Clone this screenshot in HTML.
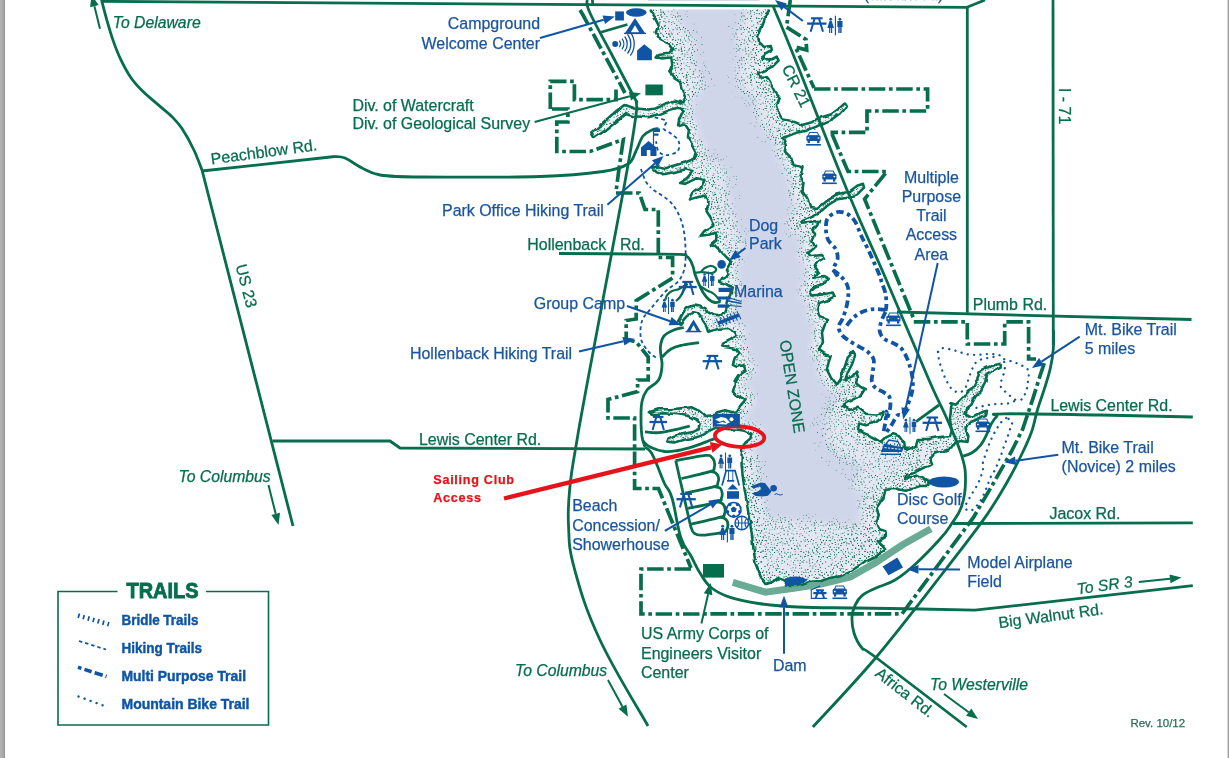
<!DOCTYPE html>
<html><head><meta charset="utf-8"><title>Alum Creek State Park Map</title>
<style>
html,body{margin:0;padding:0;background:#fff;}
body{width:1229px;height:758px;overflow:hidden;position:relative;font-family:"Liberation Sans",sans-serif;}
svg{position:absolute;left:0;top:0;display:block;will-change:transform;}
svg text{font-family:"Liberation Sans",sans-serif;}
</style></head><body>
<svg width="1229" height="758" viewBox="0 0 1229 758">
<rect x="0" y="0" width="1229" height="758" fill="#fff"/>
<path d="M732.8 582.4 L765.4 592.2 L793.8 588.3 L821 584 L850.4 577 L875.8 562.5 L903 544.5 L930.9 528.7" fill="none" stroke="#6aab96" stroke-width="7" stroke-linejoin="miter"/>
<defs>
<pattern id="sP" width="64" height="64" patternUnits="userSpaceOnUse"><g fill="#066d4d"><circle cx="20.7" cy="9.7" r="0.62"/><circle cx="41.7" cy="4.6" r="0.53"/><circle cx="34.3" cy="23.4" r="0.52"/><circle cx="3.7" cy="32.5" r="0.47"/><circle cx="2.4" cy="27.8" r="0.56"/><circle cx="4.5" cy="5.8" r="0.49"/><circle cx="27.2" cy="52.9" r="0.48"/><circle cx="7.9" cy="14.3" r="0.45"/><circle cx="40.2" cy="60.7" r="0.45"/><circle cx="36.9" cy="25.4" r="0.57"/><circle cx="62.5" cy="3.0" r="0.47"/><circle cx="54.9" cy="18.5" r="0.61"/><circle cx="9.2" cy="7.5" r="0.46"/><circle cx="19.7" cy="52.2" r="0.60"/><circle cx="11.6" cy="37.2" r="0.47"/><circle cx="40.9" cy="23.8" r="0.45"/><circle cx="35.1" cy="4.0" r="0.57"/><circle cx="3.8" cy="13.2" r="0.49"/><circle cx="43.5" cy="27.4" r="0.57"/><circle cx="20.1" cy="37.5" r="0.48"/><circle cx="29.0" cy="19.2" r="0.46"/><circle cx="50.8" cy="44.7" r="0.58"/><circle cx="15.6" cy="36.8" r="0.57"/><circle cx="33.6" cy="56.0" r="0.60"/><circle cx="46.7" cy="18.4" r="0.57"/><circle cx="62.7" cy="7.6" r="0.46"/><circle cx="-1.3" cy="7.6" r="0.46"/><circle cx="26.8" cy="48.5" r="0.56"/><circle cx="9.7" cy="31.3" r="0.57"/><circle cx="2.5" cy="42.8" r="0.53"/><circle cx="48.9" cy="36.7" r="0.61"/><circle cx="44.5" cy="38.0" r="0.49"/><circle cx="37.1" cy="29.2" r="0.61"/><circle cx="53.8" cy="60.5" r="0.57"/><circle cx="30.3" cy="42.5" r="0.45"/><circle cx="3.9" cy="44.9" r="0.45"/><circle cx="41.4" cy="63.6" r="0.56"/><circle cx="41.4" cy="-0.4" r="0.56"/><circle cx="52.6" cy="18.2" r="0.59"/><circle cx="24.7" cy="42.8" r="0.46"/><circle cx="3.8" cy="49.2" r="0.50"/><circle cx="25.0" cy="55.8" r="0.57"/><circle cx="5.2" cy="28.7" r="0.48"/><circle cx="52.4" cy="55.3" r="0.60"/><circle cx="17.8" cy="26.6" r="0.53"/><circle cx="23.0" cy="56.6" r="0.46"/><circle cx="61.3" cy="9.7" r="0.51"/><circle cx="11.3" cy="14.8" r="0.55"/><circle cx="14.9" cy="31.0" r="0.52"/><circle cx="37.7" cy="16.8" r="0.57"/><circle cx="0.3" cy="26.8" r="0.47"/><circle cx="64.3" cy="26.8" r="0.47"/><circle cx="23.6" cy="36.2" r="0.59"/><circle cx="61.0" cy="44.2" r="0.51"/><circle cx="33.0" cy="39.5" r="0.56"/><circle cx="57.6" cy="49.9" r="0.56"/><circle cx="25.1" cy="25.5" r="0.52"/><circle cx="6.6" cy="40.6" r="0.52"/><circle cx="13.4" cy="10.4" r="0.58"/><circle cx="21.8" cy="3.4" r="0.61"/><circle cx="0.0" cy="9.7" r="0.58"/><circle cx="64.0" cy="9.7" r="0.58"/><circle cx="6.5" cy="23.3" r="0.55"/><circle cx="1.6" cy="56.0" r="0.50"/><circle cx="39.3" cy="9.5" r="0.46"/><circle cx="16.1" cy="22.2" r="0.62"/><circle cx="23.3" cy="7.9" r="0.57"/><circle cx="54.3" cy="63.6" r="0.59"/><circle cx="54.3" cy="-0.4" r="0.59"/><circle cx="29.8" cy="31.0" r="0.51"/><circle cx="21.9" cy="16.9" r="0.55"/><circle cx="53.0" cy="10.3" r="0.62"/><circle cx="1.5" cy="60.9" r="0.59"/><circle cx="65.5" cy="60.9" r="0.59"/><circle cx="33.8" cy="9.4" r="0.55"/><circle cx="34.8" cy="1.7" r="0.50"/><circle cx="33.8" cy="62.6" r="0.52"/><circle cx="33.8" cy="-1.4" r="0.52"/><circle cx="55.3" cy="44.6" r="0.60"/><circle cx="10.7" cy="49.4" r="0.51"/><circle cx="34.1" cy="49.9" r="0.57"/><circle cx="21.1" cy="14.3" r="0.55"/><circle cx="51.9" cy="63.0" r="0.60"/><circle cx="51.9" cy="-1.0" r="0.60"/><circle cx="54.6" cy="51.6" r="0.59"/><circle cx="52.4" cy="47.4" r="0.50"/><circle cx="14.5" cy="33.1" r="0.45"/><circle cx="1.8" cy="17.9" r="0.49"/><circle cx="16.6" cy="44.3" r="0.52"/><circle cx="61.2" cy="28.6" r="0.55"/><circle cx="60.0" cy="63.2" r="0.59"/><circle cx="60.0" cy="-0.8" r="0.59"/><circle cx="61.1" cy="23.3" r="0.60"/><circle cx="14.1" cy="14.5" r="0.46"/><circle cx="39.9" cy="57.6" r="0.59"/><circle cx="53.8" cy="30.7" r="0.59"/><circle cx="41.8" cy="51.2" r="0.60"/><circle cx="48.0" cy="30.6" r="0.55"/><circle cx="62.2" cy="25.3" r="0.50"/><circle cx="25.7" cy="60.6" r="0.59"/><circle cx="46.4" cy="10.9" r="0.59"/><circle cx="8.1" cy="9.7" r="0.57"/><circle cx="9.4" cy="52.9" r="0.61"/><circle cx="62.7" cy="42.1" r="0.51"/><circle cx="-1.3" cy="42.1" r="0.51"/><circle cx="8.4" cy="0.9" r="0.46"/><circle cx="8.4" cy="64.9" r="0.46"/><circle cx="33.7" cy="59.8" r="0.54"/><circle cx="27.8" cy="55.8" r="0.59"/><circle cx="52.9" cy="13.5" r="0.48"/><circle cx="16.1" cy="18.7" r="0.58"/><circle cx="8.4" cy="58.2" r="0.61"/><circle cx="22.6" cy="29.3" r="0.49"/><circle cx="37.3" cy="57.9" r="0.55"/><circle cx="26.9" cy="58.7" r="0.57"/><circle cx="32.1" cy="34.0" r="0.53"/><circle cx="28.2" cy="11.7" r="0.49"/><circle cx="0.3" cy="51.1" r="0.49"/><circle cx="64.3" cy="51.1" r="0.49"/><circle cx="46.4" cy="35.6" r="0.58"/><circle cx="20.9" cy="33.2" r="0.58"/><circle cx="6.8" cy="35.9" r="0.53"/><circle cx="49.4" cy="32.5" r="0.46"/><circle cx="36.0" cy="48.6" r="0.59"/><circle cx="58.4" cy="28.4" r="0.58"/><circle cx="39.2" cy="32.4" r="0.49"/><circle cx="32.8" cy="44.3" r="0.55"/><circle cx="29.0" cy="34.1" r="0.60"/><circle cx="30.6" cy="60.3" r="0.60"/><circle cx="44.7" cy="56.1" r="0.54"/><circle cx="60.3" cy="16.6" r="0.53"/><circle cx="35.8" cy="60.4" r="0.55"/><circle cx="7.8" cy="28.3" r="0.48"/><circle cx="4.6" cy="15.4" r="0.48"/><circle cx="4.7" cy="42.8" r="0.48"/><circle cx="50.2" cy="57.4" r="0.57"/><circle cx="9.9" cy="45.8" r="0.51"/><circle cx="42.3" cy="9.2" r="0.55"/><circle cx="56.5" cy="61.9" r="0.52"/><circle cx="14.1" cy="61.0" r="0.54"/><circle cx="25.5" cy="31.2" r="0.48"/><circle cx="63.4" cy="53.3" r="0.46"/><circle cx="-0.6" cy="53.3" r="0.46"/><circle cx="10.3" cy="27.6" r="0.62"/><circle cx="33.0" cy="21.7" r="0.51"/><circle cx="12.5" cy="20.4" r="0.47"/><circle cx="46.2" cy="1.2" r="0.56"/><circle cx="46.2" cy="65.2" r="0.56"/><circle cx="1.2" cy="21.2" r="0.58"/><circle cx="65.2" cy="21.2" r="0.58"/><circle cx="4.1" cy="63.0" r="0.48"/><circle cx="4.1" cy="-1.0" r="0.48"/><circle cx="6.7" cy="17.0" r="0.55"/><circle cx="17.3" cy="8.3" r="0.51"/><circle cx="36.5" cy="44.8" r="0.54"/><circle cx="5.7" cy="3.7" r="0.45"/><circle cx="4.6" cy="60.1" r="0.46"/><circle cx="5.4" cy="54.8" r="0.62"/><circle cx="29.0" cy="21.7" r="0.60"/><circle cx="33.7" cy="15.3" r="0.53"/><circle cx="20.0" cy="19.5" r="0.55"/><circle cx="32.0" cy="11.4" r="0.49"/><circle cx="22.2" cy="1.2" r="0.58"/><circle cx="22.2" cy="65.2" r="0.58"/><circle cx="16.0" cy="1.0" r="0.52"/><circle cx="16.0" cy="65.0" r="0.52"/><circle cx="12.1" cy="30.4" r="0.61"/><circle cx="59.8" cy="6.8" r="0.58"/><circle cx="52.4" cy="27.7" r="0.59"/><circle cx="31.7" cy="53.4" r="0.61"/><circle cx="44.0" cy="62.9" r="0.49"/><circle cx="44.0" cy="-1.1" r="0.49"/><circle cx="21.9" cy="53.3" r="0.46"/><circle cx="45.2" cy="40.7" r="0.48"/><circle cx="25.9" cy="22.2" r="0.48"/><circle cx="3.5" cy="8.3" r="0.46"/><circle cx="16.4" cy="10.4" r="0.46"/><circle cx="18.0" cy="15.5" r="0.54"/><circle cx="18.8" cy="29.4" r="0.60"/><circle cx="16.8" cy="61.6" r="0.53"/><circle cx="62.2" cy="35.0" r="0.61"/><circle cx="19.8" cy="22.8" r="0.60"/><circle cx="5.7" cy="25.6" r="0.46"/><circle cx="2.7" cy="1.4" r="0.55"/><circle cx="2.7" cy="65.4" r="0.55"/><circle cx="37.5" cy="33.9" r="0.52"/><circle cx="48.0" cy="42.1" r="0.47"/><circle cx="2.8" cy="53.5" r="0.61"/><circle cx="57.1" cy="40.1" r="0.49"/><circle cx="47.0" cy="52.0" r="0.55"/><circle cx="8.9" cy="33.5" r="0.56"/><circle cx="51.5" cy="52.9" r="0.61"/><circle cx="43.7" cy="44.4" r="0.56"/><circle cx="35.7" cy="40.2" r="0.52"/><circle cx="40.1" cy="43.6" r="0.53"/><circle cx="31.3" cy="0.2" r="0.48"/><circle cx="31.3" cy="64.2" r="0.48"/><circle cx="47.2" cy="16.1" r="0.61"/><circle cx="46.7" cy="13.1" r="0.62"/><circle cx="47.3" cy="62.4" r="0.49"/><circle cx="31.6" cy="24.5" r="0.46"/><circle cx="49.1" cy="39.5" r="0.49"/><circle cx="9.4" cy="16.3" r="0.51"/><circle cx="43.2" cy="18.6" r="0.60"/><circle cx="33.1" cy="29.7" r="0.60"/><circle cx="29.8" cy="7.6" r="0.59"/><circle cx="57.2" cy="12.8" r="0.46"/><circle cx="62.6" cy="59.9" r="0.58"/><circle cx="-1.4" cy="59.9" r="0.58"/><circle cx="52.5" cy="32.6" r="0.57"/><circle cx="14.8" cy="57.5" r="0.56"/><circle cx="0.2" cy="31.5" r="0.62"/><circle cx="64.2" cy="31.5" r="0.62"/><circle cx="9.0" cy="22.0" r="0.46"/><circle cx="0.1" cy="48.0" r="0.47"/><circle cx="64.1" cy="48.0" r="0.47"/><circle cx="53.7" cy="7.7" r="0.58"/><circle cx="59.3" cy="45.6" r="0.61"/><circle cx="57.7" cy="18.5" r="0.57"/><circle cx="63.9" cy="37.7" r="0.50"/><circle cx="-0.1" cy="37.7" r="0.50"/><circle cx="17.6" cy="3.1" r="0.55"/><circle cx="18.3" cy="59.9" r="0.58"/><circle cx="19.1" cy="47.3" r="0.47"/><circle cx="62.5" cy="16.7" r="0.51"/><circle cx="10.7" cy="10.3" r="0.49"/><circle cx="31.8" cy="14.1" r="0.47"/><circle cx="12.3" cy="5.8" r="0.53"/><circle cx="21.9" cy="5.8" r="0.48"/><circle cx="15.3" cy="16.5" r="0.49"/><circle cx="48.0" cy="26.4" r="0.47"/><circle cx="26.5" cy="33.5" r="0.57"/><circle cx="4.0" cy="17.8" r="0.45"/><circle cx="55.2" cy="13.8" r="0.57"/><circle cx="25.6" cy="28.5" r="0.48"/><circle cx="61.1" cy="54.3" r="0.46"/><circle cx="55.9" cy="1.4" r="0.61"/><circle cx="55.9" cy="65.4" r="0.61"/><circle cx="57.3" cy="30.3" r="0.49"/><circle cx="37.6" cy="0.0" r="0.61"/><circle cx="37.6" cy="64.0" r="0.61"/><circle cx="41.4" cy="48.9" r="0.60"/><circle cx="41.3" cy="19.4" r="0.60"/><circle cx="33.6" cy="37.3" r="0.47"/><circle cx="24.8" cy="14.3" r="0.53"/><circle cx="19.7" cy="1.4" r="0.47"/><circle cx="19.7" cy="65.4" r="0.47"/><circle cx="26.9" cy="16.5" r="0.61"/><circle cx="42.7" cy="59.2" r="0.59"/><circle cx="21.6" cy="26.9" r="0.56"/><circle cx="43.7" cy="12.7" r="0.53"/><circle cx="62.1" cy="19.9" r="0.51"/><circle cx="14.2" cy="48.7" r="0.59"/><circle cx="14.3" cy="26.7" r="0.53"/><circle cx="9.4" cy="25.2" r="0.56"/><circle cx="9.1" cy="3.3" r="0.47"/><circle cx="57.5" cy="56.5" r="0.49"/><circle cx="59.6" cy="21.1" r="0.46"/><circle cx="11.9" cy="59.9" r="0.57"/><circle cx="23.9" cy="21.2" r="0.54"/><circle cx="10.8" cy="0.2" r="0.47"/><circle cx="10.8" cy="64.2" r="0.47"/><circle cx="61.7" cy="13.3" r="0.60"/><circle cx="3.2" cy="30.3" r="0.50"/><circle cx="23.9" cy="58.8" r="0.52"/><circle cx="12.4" cy="23.3" r="0.48"/><circle cx="49.1" cy="2.6" r="0.50"/><circle cx="2.2" cy="4.0" r="0.59"/><circle cx="47.8" cy="57.5" r="0.51"/><circle cx="61.3" cy="39.5" r="0.48"/><circle cx="60.4" cy="1.6" r="0.53"/><circle cx="59.4" cy="11.7" r="0.50"/><circle cx="52.7" cy="49.5" r="0.60"/><circle cx="38.9" cy="21.0" r="0.47"/><circle cx="50.1" cy="5.1" r="0.62"/><circle cx="2.2" cy="35.4" r="0.46"/><circle cx="20.8" cy="62.7" r="0.60"/><circle cx="20.8" cy="-1.3" r="0.60"/><circle cx="17.0" cy="5.4" r="0.56"/><circle cx="6.2" cy="31.9" r="0.49"/><circle cx="45.4" cy="28.6" r="0.53"/><circle cx="47.9" cy="54.2" r="0.50"/><circle cx="9.8" cy="56.6" r="0.49"/><circle cx="25.3" cy="63.5" r="0.48"/><circle cx="25.3" cy="-0.5" r="0.48"/><circle cx="51.7" cy="41.8" r="0.51"/><circle cx="7.6" cy="12.1" r="0.62"/><circle cx="55.4" cy="28.7" r="0.62"/><circle cx="16.6" cy="49.8" r="0.61"/><circle cx="38.2" cy="39.7" r="0.47"/><circle cx="50.9" cy="35.1" r="0.50"/><circle cx="23.3" cy="12.6" r="0.60"/><circle cx="0.4" cy="57.7" r="0.46"/><circle cx="64.4" cy="57.7" r="0.46"/><circle cx="12.6" cy="8.1" r="0.57"/><circle cx="30.9" cy="3.4" r="0.50"/><circle cx="59.3" cy="24.8" r="0.62"/><circle cx="50.3" cy="14.2" r="0.45"/><circle cx="26.9" cy="37.3" r="0.59"/><circle cx="27.2" cy="42.2" r="0.51"/><circle cx="28.6" cy="28.1" r="0.47"/><circle cx="1.5" cy="39.6" r="0.45"/><circle cx="65.5" cy="39.6" r="0.45"/><circle cx="48.9" cy="49.9" r="0.59"/><circle cx="50.5" cy="59.6" r="0.54"/><circle cx="4.2" cy="22.5" r="0.48"/><circle cx="48.4" cy="10.2" r="0.52"/><circle cx="2.4" cy="11.7" r="0.61"/><circle cx="55.9" cy="35.5" r="0.49"/><circle cx="6.7" cy="63.5" r="0.55"/><circle cx="6.7" cy="-0.5" r="0.55"/><circle cx="23.1" cy="48.9" r="0.47"/><circle cx="37.5" cy="42.5" r="0.48"/><circle cx="39.4" cy="27.7" r="0.58"/><circle cx="37.7" cy="13.1" r="0.57"/><circle cx="14.5" cy="6.7" r="0.48"/><circle cx="35.4" cy="27.9" r="0.46"/><circle cx="17.0" cy="41.1" r="0.46"/><circle cx="47.8" cy="20.9" r="0.55"/><circle cx="56.3" cy="21.0" r="0.53"/><circle cx="28.0" cy="46.4" r="0.50"/><circle cx="36.5" cy="19.7" r="0.49"/><circle cx="13.6" cy="39.8" r="0.55"/><circle cx="44.6" cy="47.2" r="0.57"/><circle cx="4.2" cy="37.8" r="0.59"/><circle cx="58.5" cy="60.4" r="0.55"/><circle cx="61.7" cy="32.2" r="0.48"/><circle cx="54.5" cy="39.6" r="0.46"/><circle cx="22.2" cy="45.1" r="0.57"/><circle cx="55.2" cy="5.8" r="0.52"/><circle cx="0.1" cy="12.9" r="0.57"/><circle cx="64.1" cy="12.9" r="0.57"/><circle cx="31.5" cy="51.0" r="0.46"/><circle cx="44.8" cy="31.9" r="0.59"/><circle cx="44.6" cy="50.4" r="0.51"/><circle cx="13.2" cy="16.8" r="0.59"/><circle cx="45.0" cy="54.0" r="0.60"/><circle cx="21.0" cy="12.1" r="0.53"/><circle cx="62.4" cy="46.6" r="0.45"/><circle cx="24.9" cy="2.2" r="0.60"/><circle cx="25.5" cy="50.6" r="0.53"/><circle cx="40.5" cy="29.6" r="0.60"/><circle cx="9.1" cy="38.6" r="0.50"/><circle cx="20.0" cy="40.2" r="0.48"/><circle cx="40.3" cy="16.0" r="0.59"/><circle cx="11.7" cy="41.9" r="0.51"/><circle cx="49.8" cy="24.9" r="0.48"/><circle cx="34.6" cy="45.9" r="0.51"/><circle cx="13.4" cy="43.8" r="0.55"/><circle cx="60.2" cy="33.7" r="0.45"/><circle cx="14.0" cy="51.3" r="0.54"/><circle cx="8.3" cy="49.7" r="0.53"/><circle cx="30.0" cy="36.0" r="0.54"/><circle cx="22.6" cy="40.9" r="0.47"/><circle cx="53.4" cy="22.7" r="0.57"/><circle cx="38.9" cy="50.0" r="0.59"/><circle cx="35.5" cy="16.9" r="0.60"/><circle cx="42.6" cy="53.8" r="0.50"/><circle cx="40.8" cy="40.7" r="0.57"/><circle cx="32.2" cy="17.4" r="0.51"/><circle cx="59.0" cy="39.0" r="0.58"/><circle cx="42.7" cy="29.3" r="0.46"/><circle cx="11.6" cy="2.4" r="0.60"/><circle cx="0.9" cy="24.8" r="0.61"/><circle cx="64.9" cy="24.8" r="0.61"/><circle cx="37.9" cy="60.0" r="0.53"/></g></pattern>
<pattern id="sQ" width="64" height="64" patternUnits="userSpaceOnUse" patternTransform="translate(13 7)"><g fill="#066d4d"><circle cx="32.9" cy="34.0" r="0.49"/><circle cx="34.4" cy="1.3" r="0.43"/><circle cx="34.4" cy="65.3" r="0.43"/><circle cx="61.9" cy="14.3" r="0.48"/><circle cx="11.7" cy="6.6" r="0.43"/><circle cx="16.0" cy="52.3" r="0.40"/><circle cx="1.9" cy="6.2" r="0.42"/><circle cx="44.7" cy="12.5" r="0.39"/><circle cx="1.1" cy="38.4" r="0.51"/><circle cx="65.1" cy="38.4" r="0.51"/><circle cx="36.9" cy="33.5" r="0.46"/><circle cx="45.0" cy="6.6" r="0.43"/><circle cx="55.6" cy="45.9" r="0.44"/><circle cx="31.6" cy="32.0" r="0.43"/><circle cx="17.9" cy="7.8" r="0.39"/><circle cx="26.0" cy="8.8" r="0.50"/><circle cx="37.9" cy="55.1" r="0.46"/><circle cx="9.4" cy="36.7" r="0.51"/><circle cx="47.8" cy="10.5" r="0.44"/><circle cx="52.9" cy="60.0" r="0.47"/><circle cx="24.9" cy="26.9" r="0.41"/><circle cx="53.7" cy="33.6" r="0.39"/><circle cx="25.3" cy="60.2" r="0.51"/><circle cx="49.7" cy="21.7" r="0.50"/><circle cx="15.4" cy="21.4" r="0.42"/><circle cx="27.9" cy="62.8" r="0.51"/><circle cx="27.9" cy="-1.2" r="0.51"/><circle cx="51.5" cy="58.4" r="0.49"/><circle cx="52.2" cy="54.2" r="0.42"/><circle cx="3.4" cy="33.1" r="0.46"/><circle cx="61.3" cy="59.8" r="0.51"/><circle cx="16.0" cy="27.0" r="0.45"/><circle cx="40.5" cy="23.3" r="0.51"/><circle cx="34.0" cy="4.4" r="0.41"/><circle cx="27.7" cy="32.3" r="0.43"/><circle cx="1.3" cy="8.9" r="0.48"/><circle cx="65.3" cy="8.9" r="0.48"/><circle cx="62.1" cy="49.7" r="0.41"/><circle cx="60.0" cy="40.5" r="0.42"/><circle cx="56.6" cy="2.2" r="0.50"/><circle cx="41.1" cy="17.0" r="0.45"/><circle cx="43.4" cy="17.5" r="0.49"/><circle cx="34.7" cy="59.2" r="0.41"/><circle cx="33.3" cy="27.8" r="0.40"/><circle cx="60.9" cy="18.4" r="0.43"/><circle cx="19.5" cy="41.4" r="0.41"/><circle cx="7.7" cy="38.0" r="0.52"/><circle cx="61.2" cy="32.9" r="0.42"/><circle cx="17.2" cy="29.9" r="0.46"/><circle cx="34.2" cy="9.5" r="0.40"/><circle cx="7.9" cy="8.4" r="0.45"/><circle cx="18.8" cy="26.0" r="0.43"/><circle cx="18.5" cy="15.6" r="0.44"/><circle cx="5.6" cy="35.0" r="0.39"/><circle cx="53.7" cy="39.0" r="0.40"/><circle cx="36.5" cy="41.6" r="0.50"/><circle cx="12.9" cy="45.5" r="0.43"/><circle cx="29.5" cy="35.1" r="0.41"/><circle cx="39.2" cy="30.0" r="0.41"/><circle cx="14.2" cy="32.8" r="0.42"/><circle cx="24.5" cy="37.5" r="0.41"/><circle cx="0.8" cy="22.6" r="0.38"/><circle cx="64.8" cy="22.6" r="0.38"/><circle cx="55.2" cy="15.3" r="0.47"/><circle cx="35.6" cy="31.5" r="0.43"/><circle cx="18.2" cy="63.2" r="0.40"/><circle cx="18.2" cy="-0.8" r="0.40"/><circle cx="18.9" cy="49.4" r="0.48"/><circle cx="10.1" cy="4.3" r="0.39"/><circle cx="55.8" cy="28.2" r="0.42"/><circle cx="4.0" cy="24.8" r="0.50"/><circle cx="28.2" cy="47.1" r="0.40"/><circle cx="7.0" cy="14.4" r="0.44"/><circle cx="61.4" cy="47.3" r="0.50"/><circle cx="9.9" cy="21.6" r="0.49"/><circle cx="22.6" cy="43.2" r="0.40"/><circle cx="47.3" cy="47.6" r="0.43"/><circle cx="48.6" cy="30.4" r="0.48"/><circle cx="50.2" cy="45.3" r="0.43"/><circle cx="58.5" cy="8.1" r="0.51"/><circle cx="55.7" cy="0.3" r="0.41"/><circle cx="55.7" cy="64.3" r="0.41"/><circle cx="49.0" cy="37.5" r="0.51"/><circle cx="31.9" cy="61.6" r="0.45"/><circle cx="36.6" cy="26.7" r="0.41"/><circle cx="50.2" cy="55.9" r="0.44"/><circle cx="28.9" cy="29.3" r="0.40"/><circle cx="46.3" cy="18.7" r="0.48"/><circle cx="24.6" cy="20.6" r="0.42"/><circle cx="11.8" cy="19.5" r="0.51"/><circle cx="37.2" cy="5.6" r="0.46"/><circle cx="58.9" cy="20.7" r="0.43"/><circle cx="27.3" cy="58.3" r="0.41"/><circle cx="0.7" cy="3.0" r="0.47"/><circle cx="64.7" cy="3.0" r="0.47"/><circle cx="58.9" cy="49.5" r="0.41"/><circle cx="43.9" cy="24.9" r="0.50"/><circle cx="22.5" cy="60.7" r="0.40"/><circle cx="43.3" cy="33.6" r="0.45"/><circle cx="6.3" cy="24.0" r="0.46"/><circle cx="28.2" cy="40.0" r="0.42"/><circle cx="33.9" cy="52.2" r="0.49"/><circle cx="62.6" cy="52.9" r="0.43"/><circle cx="-1.4" cy="52.9" r="0.43"/><circle cx="32.8" cy="7.1" r="0.47"/><circle cx="57.2" cy="44.2" r="0.46"/><circle cx="52.5" cy="63.4" r="0.42"/><circle cx="52.5" cy="-0.6" r="0.42"/><circle cx="12.0" cy="11.7" r="0.43"/><circle cx="40.3" cy="38.6" r="0.39"/><circle cx="22.6" cy="63.6" r="0.40"/><circle cx="22.6" cy="-0.4" r="0.40"/><circle cx="40.7" cy="2.7" r="0.50"/><circle cx="26.3" cy="50.4" r="0.42"/><circle cx="19.6" cy="44.2" r="0.47"/><circle cx="0.3" cy="19.5" r="0.40"/><circle cx="64.3" cy="19.5" r="0.40"/><circle cx="17.0" cy="41.4" r="0.46"/><circle cx="48.6" cy="6.8" r="0.43"/><circle cx="6.4" cy="10.9" r="0.45"/><circle cx="39.2" cy="51.6" r="0.42"/><circle cx="4.0" cy="0.8" r="0.39"/><circle cx="4.0" cy="64.8" r="0.39"/></g></pattern>
<pattern id="sR" width="64" height="64" patternUnits="userSpaceOnUse" patternTransform="translate(29 17)"><g fill="#066d4d"><circle cx="19.9" cy="14.5" r="0.50"/><circle cx="8.1" cy="45.9" r="0.65"/><circle cx="18.1" cy="25.8" r="0.52"/><circle cx="58.2" cy="49.6" r="0.62"/><circle cx="56.5" cy="55.1" r="0.52"/><circle cx="8.5" cy="17.7" r="0.53"/><circle cx="1.9" cy="43.5" r="0.61"/><circle cx="42.5" cy="22.5" r="0.51"/><circle cx="26.4" cy="42.2" r="0.55"/><circle cx="44.8" cy="15.9" r="0.65"/><circle cx="54.2" cy="22.5" r="0.61"/><circle cx="40.2" cy="11.6" r="0.64"/><circle cx="7.4" cy="58.4" r="0.66"/><circle cx="47.0" cy="45.6" r="0.51"/><circle cx="2.6" cy="2.6" r="0.54"/><circle cx="10.4" cy="12.7" r="0.63"/><circle cx="2.5" cy="19.9" r="0.61"/><circle cx="53.7" cy="36.5" r="0.51"/><circle cx="27.8" cy="43.8" r="0.58"/><circle cx="22.3" cy="0.1" r="0.54"/><circle cx="22.3" cy="64.1" r="0.54"/><circle cx="53.4" cy="49.7" r="0.57"/><circle cx="18.3" cy="2.7" r="0.52"/><circle cx="54.7" cy="38.9" r="0.50"/><circle cx="3.0" cy="15.6" r="0.66"/><circle cx="7.1" cy="50.7" r="0.55"/><circle cx="13.4" cy="58.5" r="0.64"/><circle cx="48.0" cy="5.5" r="0.52"/><circle cx="44.5" cy="25.2" r="0.58"/><circle cx="47.8" cy="53.0" r="0.52"/><circle cx="18.0" cy="5.8" r="0.57"/><circle cx="60.6" cy="27.1" r="0.53"/><circle cx="59.5" cy="44.3" r="0.61"/><circle cx="40.2" cy="29.0" r="0.52"/><circle cx="27.4" cy="32.8" r="0.62"/><circle cx="59.4" cy="8.2" r="0.58"/><circle cx="48.8" cy="2.8" r="0.52"/><circle cx="45.0" cy="51.6" r="0.56"/><circle cx="16.7" cy="35.0" r="0.58"/><circle cx="62.0" cy="40.8" r="0.65"/><circle cx="34.8" cy="16.0" r="0.56"/><circle cx="3.8" cy="22.9" r="0.53"/><circle cx="26.3" cy="12.9" r="0.65"/><circle cx="19.9" cy="8.7" r="0.64"/><circle cx="45.2" cy="42.9" r="0.62"/><circle cx="15.2" cy="15.5" r="0.54"/><circle cx="33.0" cy="28.5" r="0.53"/><circle cx="59.9" cy="22.5" r="0.54"/><circle cx="19.2" cy="56.6" r="0.51"/><circle cx="9.1" cy="36.0" r="0.51"/><circle cx="21.3" cy="52.2" r="0.58"/><circle cx="35.1" cy="48.7" r="0.57"/><circle cx="10.8" cy="42.7" r="0.59"/><circle cx="23.1" cy="13.2" r="0.56"/><circle cx="3.9" cy="18.0" r="0.50"/><circle cx="12.6" cy="44.9" r="0.61"/><circle cx="28.7" cy="7.2" r="0.60"/><circle cx="20.8" cy="30.0" r="0.59"/><circle cx="23.2" cy="10.8" r="0.59"/><circle cx="4.6" cy="0.7" r="0.61"/><circle cx="4.6" cy="64.7" r="0.61"/><circle cx="63.5" cy="48.0" r="0.66"/><circle cx="-0.5" cy="48.0" r="0.66"/><circle cx="5.4" cy="45.9" r="0.64"/><circle cx="62.7" cy="36.1" r="0.61"/><circle cx="-1.3" cy="36.1" r="0.61"/><circle cx="7.0" cy="31.3" r="0.56"/><circle cx="34.8" cy="0.5" r="0.55"/><circle cx="34.8" cy="64.5" r="0.55"/><circle cx="58.9" cy="41.2" r="0.57"/><circle cx="40.2" cy="59.9" r="0.66"/><circle cx="41.8" cy="16.1" r="0.56"/><circle cx="15.7" cy="8.9" r="0.56"/><circle cx="1.8" cy="49.6" r="0.57"/><circle cx="53.7" cy="19.0" r="0.52"/><circle cx="11.9" cy="40.8" r="0.66"/><circle cx="54.1" cy="59.3" r="0.50"/><circle cx="10.8" cy="50.2" r="0.60"/><circle cx="53.1" cy="47.5" r="0.65"/><circle cx="20.9" cy="11.8" r="0.54"/><circle cx="23.6" cy="35.3" r="0.60"/><circle cx="23.6" cy="53.2" r="0.56"/><circle cx="15.3" cy="2.6" r="0.54"/><circle cx="36.3" cy="40.2" r="0.53"/><circle cx="52.5" cy="45.2" r="0.52"/><circle cx="57.9" cy="60.5" r="0.63"/><circle cx="31.6" cy="32.0" r="0.63"/><circle cx="10.1" cy="19.2" r="0.65"/><circle cx="37.2" cy="5.1" r="0.51"/><circle cx="44.0" cy="10.5" r="0.61"/><circle cx="28.4" cy="62.1" r="0.55"/><circle cx="5.7" cy="2.6" r="0.60"/><circle cx="46.3" cy="0.2" r="0.59"/><circle cx="46.3" cy="64.2" r="0.59"/><circle cx="53.8" cy="54.7" r="0.55"/><circle cx="50.4" cy="27.2" r="0.66"/><circle cx="18.1" cy="42.3" r="0.50"/><circle cx="21.7" cy="28.1" r="0.62"/><circle cx="42.6" cy="52.9" r="0.64"/><circle cx="57.9" cy="10.5" r="0.58"/><circle cx="18.9" cy="28.4" r="0.59"/><circle cx="36.1" cy="22.3" r="0.66"/><circle cx="12.5" cy="5.4" r="0.54"/><circle cx="62.2" cy="58.2" r="0.60"/><circle cx="55.4" cy="62.4" r="0.62"/><circle cx="51.9" cy="3.8" r="0.56"/><circle cx="43.3" cy="39.0" r="0.61"/><circle cx="19.0" cy="36.6" r="0.56"/><circle cx="61.0" cy="30.8" r="0.58"/><circle cx="41.4" cy="19.2" r="0.60"/><circle cx="22.0" cy="56.6" r="0.61"/><circle cx="1.8" cy="12.1" r="0.55"/><circle cx="43.4" cy="28.6" r="0.60"/><circle cx="5.5" cy="42.3" r="0.59"/><circle cx="36.1" cy="25.4" r="0.54"/><circle cx="7.3" cy="11.6" r="0.60"/><circle cx="57.0" cy="35.1" r="0.54"/><circle cx="7.2" cy="55.2" r="0.65"/><circle cx="31.3" cy="35.5" r="0.58"/><circle cx="14.5" cy="36.7" r="0.62"/><circle cx="26.1" cy="4.7" r="0.58"/><circle cx="28.1" cy="55.3" r="0.58"/><circle cx="35.2" cy="45.7" r="0.54"/><circle cx="6.5" cy="53.1" r="0.52"/><circle cx="49.6" cy="8.8" r="0.65"/><circle cx="15.2" cy="23.8" r="0.58"/><circle cx="1.0" cy="38.0" r="0.58"/><circle cx="65.0" cy="38.0" r="0.58"/><circle cx="13.6" cy="19.2" r="0.58"/><circle cx="45.3" cy="27.3" r="0.63"/><circle cx="56.9" cy="39.8" r="0.54"/><circle cx="58.7" cy="55.7" r="0.53"/><circle cx="10.8" cy="47.7" r="0.63"/><circle cx="21.8" cy="48.9" r="0.57"/><circle cx="7.9" cy="23.9" r="0.60"/><circle cx="47.2" cy="60.7" r="0.63"/><circle cx="46.2" cy="2.8" r="0.64"/><circle cx="35.1" cy="51.4" r="0.64"/><circle cx="12.4" cy="28.6" r="0.51"/><circle cx="11.9" cy="35.5" r="0.56"/><circle cx="60.7" cy="0.9" r="0.63"/><circle cx="60.7" cy="64.9" r="0.63"/><circle cx="32.1" cy="55.9" r="0.63"/><circle cx="11.7" cy="52.4" r="0.52"/><circle cx="30.4" cy="10.1" r="0.52"/><circle cx="54.1" cy="25.2" r="0.54"/><circle cx="4.9" cy="21.1" r="0.52"/><circle cx="37.7" cy="2.8" r="0.56"/><circle cx="10.9" cy="23.1" r="0.63"/><circle cx="24.8" cy="22.6" r="0.58"/><circle cx="2.9" cy="9.3" r="0.57"/><circle cx="17.5" cy="32.0" r="0.51"/><circle cx="33.8" cy="61.2" r="0.56"/><circle cx="63.5" cy="2.2" r="0.66"/><circle cx="-0.5" cy="2.2" r="0.66"/><circle cx="55.8" cy="49.6" r="0.61"/><circle cx="40.5" cy="40.6" r="0.57"/><circle cx="23.2" cy="18.0" r="0.58"/><circle cx="50.9" cy="55.9" r="0.63"/><circle cx="19.5" cy="48.9" r="0.62"/><circle cx="47.3" cy="32.6" r="0.52"/><circle cx="30.8" cy="23.5" r="0.61"/><circle cx="22.4" cy="8.7" r="0.56"/><circle cx="0.5" cy="55.7" r="0.58"/><circle cx="64.5" cy="55.7" r="0.58"/><circle cx="29.0" cy="28.5" r="0.54"/><circle cx="36.4" cy="19.4" r="0.56"/><circle cx="19.3" cy="19.7" r="0.55"/><circle cx="46.5" cy="35.3" r="0.56"/><circle cx="59.0" cy="37.3" r="0.50"/><circle cx="5.1" cy="11.4" r="0.53"/><circle cx="37.2" cy="63.2" r="0.59"/><circle cx="37.2" cy="-0.8" r="0.59"/><circle cx="4.3" cy="31.0" r="0.51"/><circle cx="57.5" cy="17.7" r="0.53"/><circle cx="38.6" cy="55.3" r="0.61"/><circle cx="59.1" cy="13.6" r="0.54"/><circle cx="41.5" cy="25.9" r="0.55"/><circle cx="3.7" cy="26.5" r="0.54"/><circle cx="2.9" cy="40.1" r="0.63"/><circle cx="38.3" cy="16.4" r="0.51"/><circle cx="29.7" cy="0.9" r="0.60"/><circle cx="29.7" cy="64.9" r="0.60"/><circle cx="39.3" cy="46.3" r="0.64"/><circle cx="21.1" cy="6.0" r="0.53"/><circle cx="10.0" cy="9.1" r="0.57"/><circle cx="34.5" cy="37.7" r="0.63"/><circle cx="38.5" cy="21.2" r="0.60"/><circle cx="47.4" cy="16.5" r="0.56"/><circle cx="45.5" cy="48.9" r="0.51"/><circle cx="49.7" cy="19.8" r="0.57"/><circle cx="49.4" cy="62.6" r="0.56"/><circle cx="49.4" cy="-1.4" r="0.56"/><circle cx="29.0" cy="17.8" r="0.61"/><circle cx="8.4" cy="0.6" r="0.55"/><circle cx="8.4" cy="64.6" r="0.55"/><circle cx="30.4" cy="41.9" r="0.57"/><circle cx="49.5" cy="23.2" r="0.60"/><circle cx="63.3" cy="14.6" r="0.63"/><circle cx="-0.7" cy="14.6" r="0.63"/><circle cx="35.5" cy="11.6" r="0.56"/><circle cx="10.4" cy="1.9" r="0.56"/><circle cx="49.8" cy="15.5" r="0.59"/><circle cx="62.9" cy="31.9" r="0.65"/><circle cx="-1.1" cy="31.9" r="0.65"/><circle cx="51.2" cy="29.4" r="0.53"/><circle cx="25.7" cy="55.3" r="0.66"/><circle cx="3.8" cy="36.1" r="0.61"/><circle cx="26.2" cy="58.8" r="0.56"/><circle cx="16.8" cy="27.8" r="0.61"/><circle cx="14.8" cy="13.0" r="0.55"/><circle cx="48.6" cy="41.1" r="0.51"/><circle cx="19.1" cy="63.6" r="0.62"/><circle cx="19.1" cy="-0.4" r="0.62"/><circle cx="10.0" cy="55.2" r="0.56"/><circle cx="55.3" cy="11.7" r="0.58"/><circle cx="7.1" cy="62.4" r="0.58"/></g></pattern>
<filter id="blur8" x="-10%" y="-10%" width="120%" height="120%"><feGaussianBlur stdDeviation="3.5"/></filter>
<filter id="rough" filterUnits="userSpaceOnUse" x="560" y="0" width="480" height="620"><feTurbulence type="fractalNoise" baseFrequency="0.09" numOctaves="2" seed="3" result="n"/><feDisplacementMap in="SourceGraphic" in2="n" scale="4" xChannelSelector="R" yChannelSelector="G"/></filter>
<clipPath id="lk"><path d="M649.5 4.0 L649.8 10.7 L654.6 17.6 L658.6 25.4 L655.6 32.2 L659.5 39.1 L669.3 43.9 L673.2 48.8 L669.3 52.7 L658.6 53.7 L655.6 57.6 L661.5 58.6 L671.2 57.6 L672.2 64.4 L669.3 72.3 L674.2 78.1 L680.0 82.0 L682.0 89.8 L684.9 97.6 L682.0 102.5 L674.2 100.6 L665.4 103.5 L655.6 108.4 L648.3 109.5 L633.5 108.2 L624.3 105.0 L616.9 110.5 L604.0 121.7 L591.5 133.2 L594.5 138.0 L605.8 130.0 L618.7 119.8 L626.0 114.3 L633.5 116.3 L648.3 117.2 L659.4 114.2 L670.5 109.8 L677.9 107.8 L683.4 110.0 L679.1 119.5 L678.1 125.4 L685.0 123.4 L688.9 129.3 L687.9 137.1 L692.8 144.9 L696.7 152.7 L694.7 158.6 L685.0 162.5 L675.2 165.4 L665.5 168.3 L657.6 166.4 L651.8 167.4 L655.7 171.3 L663.5 174.2 L673.3 172.3 L685.0 169.3 L692.8 171.3 L686.9 178.1 L679.1 183.0 L685.0 184.0 L696.7 178.1 L704.5 180.1 L700.6 187.9 L692.8 193.7 L689.9 199.6 L696.7 197.6 L704.5 195.7 L708.4 203.5 L706.5 211.3 L710.4 217.2 L714.3 225.0 L704.5 230.8 L700.6 235.7 L708.4 234.7 L716.2 232.8 L716.2 240.6 L710.4 245.5 L715.2 245.9 L721.1 251.7 L726.9 257.6 L730.8 261.5 L726.9 269.3 L728.9 275.2 L722.1 278.1 L720.1 282.0 L726.9 283.9 L732.8 287.8 L728.9 296.6 L726.9 306.4 L725.0 312.3 L719.1 316.2 L713.3 315.2 L708.4 312.3 L705.5 308.3 L699.6 305.4 L693.7 304.4 L685.9 307.4 L682.0 314.2 L678.1 321.0 L680.1 324.9 L685.9 318.1 L693.7 312.3 L697.6 313.2 L701.5 318.1 L706.4 325.9 L708.4 331.8 L717.2 328.9 L726.9 327.9 L734.7 331.8 L736.7 335.7 L730.8 339.6 L723.0 343.5 L722.1 346.4 L728.9 347.4 L736.7 349.4 L739.6 353.3 L734.7 359.1 L732.8 365.0 L736.7 366.9 L743.5 365.0 L745.5 369.9 L738.6 374.7 L734.7 380.6 L734.7 385.9 L732.8 391.7 L736.7 395.6 L742.6 397.6 L745.5 399.5 L740.6 405.4 L736.7 411.2 L732.8 412.2 L725.0 410.3 L717.2 412.2 L713.3 415.2 L705.5 416.1 L699.6 411.2 L691.8 407.3 L682.0 408.3 L670.3 409.3 L658.6 409.3 L648.8 412.2 L652.7 414.2 L664.4 413.2 L678.1 414.2 L687.9 416.1 L695.7 419.1 L700.6 423.9 L699.6 428.8 L693.7 431.7 L684.0 433.7 L674.2 435.7 L668.3 438.6 L667.4 441.5 L674.2 442.5 L684.0 439.6 L695.7 437.6 L703.5 434.7 L709.4 430.8 L715.2 427.8 L725.0 428.8 L736.7 429.8 L744.5 430.8 L751.3 433.7 L750.4 438.6 L745.5 442.5 L742.6 446.4 L741.6 454.2 L741.6 464.0 L742.6 475.7 L744.5 489.4 L746.5 501.1 L748.8 515.6 L751.7 533.2 L753.7 550.8 L755.7 564.4 L760.5 576.2 L766.4 584.0 L772.3 582.0 L778.1 578.1 L784.0 580.1 L789.8 585.9 L797.6 585.9 L809.4 582.0 L821.1 581.0 L828.9 578.1 L840.6 576.2 L852.3 570.3 L864.0 562.5 L875.8 556.6 L885.5 549.8 L881.6 544.9 L877.7 541.0 L884.5 537.1 L885.5 531.2 L879.7 529.3 L875.8 523.4 L878.7 515.6 L876.7 507.8 L881.6 500.0 L883.5 497.6 L885.5 489.8 L895.2 488.9 L906.9 490.8 L914.7 487.9 L920.6 485.9 L928.4 485.9 L928.4 482.0 L922.6 477.1 L916.7 475.2 L910.8 477.1 L905.0 478.1 L906.9 475.2 L914.7 472.3 L924.5 467.4 L932.3 464.4 L930.4 458.6 L934.3 453.7 L942.1 451.7 L951.8 447.8 L955.8 442.0 L961.6 441.0 L967.5 442.0 L968.4 436.1 L965.5 429.3 L969.4 422.5 L977.2 419.5 L986.0 414.6 L987.0 410.7 L983.1 411.7 L973.3 416.6 L965.5 413.7 L967.5 407.8 L971.4 404.7 L975.3 396.9 L981.1 391.1 L985.0 383.3 L987.0 375.5 L992.9 371.5 L1000.7 367.6 L1000.7 363.7 L994.8 364.7 L987.0 367.6 L979.2 371.5 L977.2 379.4 L973.3 387.2 L967.5 391.1 L963.6 396.9 L955.8 404.7 L949.9 402.8 L951.8 403.9 L950.9 409.8 L949.9 419.5 L951.8 429.3 L949.9 436.1 L940.1 437.1 L928.4 439.1 L918.6 439.1 L916.7 445.9 L908.9 448.8 L904.0 448.8 L903.0 442.0 L899.1 436.1 L893.3 434.2 L886.4 437.1 L881.5 442.0 L873.7 437.1 L864.0 433.2 L857.1 429.3 L858.1 423.4 L865.9 425.4 L875.7 422.5 L882.5 417.6 L883.5 412.7 L875.7 414.6 L865.9 413.7 L858.1 407.8 L850.3 409.8 L842.5 405.9 L846.4 402.8 L854.2 398.9 L862.0 395.0 L865.9 389.1 L862.0 387.2 L857.1 383.3 L858.1 377.4 L856.2 371.5 L852.3 376.4 L845.4 379.4 L847.4 373.5 L852.3 363.7 L855.2 354.9 L853.2 351.0 L848.3 355.9 L844.4 367.6 L840.5 379.4 L836.6 385.2 L830.8 377.4 L826.9 369.6 L828.8 361.8 L830.8 355.9 L824.9 354.0 L819.1 350.1 L823.0 342.3 L822.0 332.5 L824.9 324.7 L826.9 318.8 L819.1 315.9 L817.1 309.1 L819.1 303.2 L826.9 300.3 L834.7 296.4 L832.7 292.5 L821.0 294.4 L811.2 295.4 L809.3 291.5 L815.2 286.6 L824.9 283.7 L828.8 278.8 L823.0 275.9 L813.2 277.8 L818.1 272.6 L814.2 266.7 L816.2 262.8 L824.0 257.9 L822.0 255.0 L810.3 256.0 L808.3 253.0 L815.2 247.2 L812.3 241.3 L815.2 235.5 L812.3 229.6 L818.1 225.7 L820.1 220.8 L810.3 221.8 L801.5 222.8 L802.5 219.8 L812.3 215.9 L820.1 212.0 L827.9 205.2 L837.6 199.3 L849.4 197.4 L857.2 194.4 L864.0 187.6 L863.0 183.7 L857.2 185.7 L849.4 191.5 L837.6 194.4 L827.9 200.3 L818.1 208.1 L810.3 207.1 L807.4 198.3 L802.5 190.5 L803.5 182.7 L800.5 174.9 L802.5 167.1 L793.7 165.2 L790.8 157.3 L784.9 151.5 L785.9 145.6 L783.0 137.8 L786.5 136.7 L796.2 132.8 L806.0 130.8 L815.8 126.9 L825.5 122.1 L833.3 119.1 L841.1 113.3 L847.0 106.4 L845.0 103.5 L839.2 108.4 L831.4 114.2 L821.6 117.2 L811.8 122.1 L802.1 125.0 L792.3 121.1 L782.6 119.1 L779.6 112.3 L776.7 105.5 L779.6 97.6 L774.7 91.8 L770.8 84.0 L766.9 77.1 L759.1 76.2 L758.1 73.2 L765.0 70.3 L772.8 66.4 L778.6 60.5 L776.7 56.6 L768.9 60.5 L762.1 58.6 L765.0 53.7 L771.8 49.8 L770.8 45.9 L764.0 46.9 L759.1 42.0 L758.1 35.2 L761.1 29.3 L764.0 21.5 L765.0 15.6 L768.9 10.7 L769.5 4.0Z"/></clipPath>
<clipPath id="below"><rect x="0" y="9.5" width="1229" height="760"/></clipPath>
</defs>
<g clip-path="url(#below)">
<g filter="url(#rough)">
<path d="M649.5 4.0 L649.8 10.7 L654.6 17.6 L658.6 25.4 L655.6 32.2 L659.5 39.1 L669.3 43.9 L673.2 48.8 L669.3 52.7 L658.6 53.7 L655.6 57.6 L661.5 58.6 L671.2 57.6 L672.2 64.4 L669.3 72.3 L674.2 78.1 L680.0 82.0 L682.0 89.8 L684.9 97.6 L682.0 102.5 L674.2 100.6 L665.4 103.5 L655.6 108.4 L648.3 109.5 L633.5 108.2 L624.3 105.0 L616.9 110.5 L604.0 121.7 L591.5 133.2 L594.5 138.0 L605.8 130.0 L618.7 119.8 L626.0 114.3 L633.5 116.3 L648.3 117.2 L659.4 114.2 L670.5 109.8 L677.9 107.8 L683.4 110.0 L679.1 119.5 L678.1 125.4 L685.0 123.4 L688.9 129.3 L687.9 137.1 L692.8 144.9 L696.7 152.7 L694.7 158.6 L685.0 162.5 L675.2 165.4 L665.5 168.3 L657.6 166.4 L651.8 167.4 L655.7 171.3 L663.5 174.2 L673.3 172.3 L685.0 169.3 L692.8 171.3 L686.9 178.1 L679.1 183.0 L685.0 184.0 L696.7 178.1 L704.5 180.1 L700.6 187.9 L692.8 193.7 L689.9 199.6 L696.7 197.6 L704.5 195.7 L708.4 203.5 L706.5 211.3 L710.4 217.2 L714.3 225.0 L704.5 230.8 L700.6 235.7 L708.4 234.7 L716.2 232.8 L716.2 240.6 L710.4 245.5 L715.2 245.9 L721.1 251.7 L726.9 257.6 L730.8 261.5 L726.9 269.3 L728.9 275.2 L722.1 278.1 L720.1 282.0 L726.9 283.9 L732.8 287.8 L728.9 296.6 L726.9 306.4 L725.0 312.3 L719.1 316.2 L713.3 315.2 L708.4 312.3 L705.5 308.3 L699.6 305.4 L693.7 304.4 L685.9 307.4 L682.0 314.2 L678.1 321.0 L680.1 324.9 L685.9 318.1 L693.7 312.3 L697.6 313.2 L701.5 318.1 L706.4 325.9 L708.4 331.8 L717.2 328.9 L726.9 327.9 L734.7 331.8 L736.7 335.7 L730.8 339.6 L723.0 343.5 L722.1 346.4 L728.9 347.4 L736.7 349.4 L739.6 353.3 L734.7 359.1 L732.8 365.0 L736.7 366.9 L743.5 365.0 L745.5 369.9 L738.6 374.7 L734.7 380.6 L734.7 385.9 L732.8 391.7 L736.7 395.6 L742.6 397.6 L745.5 399.5 L740.6 405.4 L736.7 411.2 L732.8 412.2 L725.0 410.3 L717.2 412.2 L713.3 415.2 L705.5 416.1 L699.6 411.2 L691.8 407.3 L682.0 408.3 L670.3 409.3 L658.6 409.3 L648.8 412.2 L652.7 414.2 L664.4 413.2 L678.1 414.2 L687.9 416.1 L695.7 419.1 L700.6 423.9 L699.6 428.8 L693.7 431.7 L684.0 433.7 L674.2 435.7 L668.3 438.6 L667.4 441.5 L674.2 442.5 L684.0 439.6 L695.7 437.6 L703.5 434.7 L709.4 430.8 L715.2 427.8 L725.0 428.8 L736.7 429.8 L744.5 430.8 L751.3 433.7 L750.4 438.6 L745.5 442.5 L742.6 446.4 L741.6 454.2 L741.6 464.0 L742.6 475.7 L744.5 489.4 L746.5 501.1 L748.8 515.6 L751.7 533.2 L753.7 550.8 L755.7 564.4 L760.5 576.2 L766.4 584.0 L772.3 582.0 L778.1 578.1 L784.0 580.1 L789.8 585.9 L797.6 585.9 L809.4 582.0 L821.1 581.0 L828.9 578.1 L840.6 576.2 L852.3 570.3 L864.0 562.5 L875.8 556.6 L885.5 549.8 L881.6 544.9 L877.7 541.0 L884.5 537.1 L885.5 531.2 L879.7 529.3 L875.8 523.4 L878.7 515.6 L876.7 507.8 L881.6 500.0 L883.5 497.6 L885.5 489.8 L895.2 488.9 L906.9 490.8 L914.7 487.9 L920.6 485.9 L928.4 485.9 L928.4 482.0 L922.6 477.1 L916.7 475.2 L910.8 477.1 L905.0 478.1 L906.9 475.2 L914.7 472.3 L924.5 467.4 L932.3 464.4 L930.4 458.6 L934.3 453.7 L942.1 451.7 L951.8 447.8 L955.8 442.0 L961.6 441.0 L967.5 442.0 L968.4 436.1 L965.5 429.3 L969.4 422.5 L977.2 419.5 L986.0 414.6 L987.0 410.7 L983.1 411.7 L973.3 416.6 L965.5 413.7 L967.5 407.8 L971.4 404.7 L975.3 396.9 L981.1 391.1 L985.0 383.3 L987.0 375.5 L992.9 371.5 L1000.7 367.6 L1000.7 363.7 L994.8 364.7 L987.0 367.6 L979.2 371.5 L977.2 379.4 L973.3 387.2 L967.5 391.1 L963.6 396.9 L955.8 404.7 L949.9 402.8 L951.8 403.9 L950.9 409.8 L949.9 419.5 L951.8 429.3 L949.9 436.1 L940.1 437.1 L928.4 439.1 L918.6 439.1 L916.7 445.9 L908.9 448.8 L904.0 448.8 L903.0 442.0 L899.1 436.1 L893.3 434.2 L886.4 437.1 L881.5 442.0 L873.7 437.1 L864.0 433.2 L857.1 429.3 L858.1 423.4 L865.9 425.4 L875.7 422.5 L882.5 417.6 L883.5 412.7 L875.7 414.6 L865.9 413.7 L858.1 407.8 L850.3 409.8 L842.5 405.9 L846.4 402.8 L854.2 398.9 L862.0 395.0 L865.9 389.1 L862.0 387.2 L857.1 383.3 L858.1 377.4 L856.2 371.5 L852.3 376.4 L845.4 379.4 L847.4 373.5 L852.3 363.7 L855.2 354.9 L853.2 351.0 L848.3 355.9 L844.4 367.6 L840.5 379.4 L836.6 385.2 L830.8 377.4 L826.9 369.6 L828.8 361.8 L830.8 355.9 L824.9 354.0 L819.1 350.1 L823.0 342.3 L822.0 332.5 L824.9 324.7 L826.9 318.8 L819.1 315.9 L817.1 309.1 L819.1 303.2 L826.9 300.3 L834.7 296.4 L832.7 292.5 L821.0 294.4 L811.2 295.4 L809.3 291.5 L815.2 286.6 L824.9 283.7 L828.8 278.8 L823.0 275.9 L813.2 277.8 L818.1 272.6 L814.2 266.7 L816.2 262.8 L824.0 257.9 L822.0 255.0 L810.3 256.0 L808.3 253.0 L815.2 247.2 L812.3 241.3 L815.2 235.5 L812.3 229.6 L818.1 225.7 L820.1 220.8 L810.3 221.8 L801.5 222.8 L802.5 219.8 L812.3 215.9 L820.1 212.0 L827.9 205.2 L837.6 199.3 L849.4 197.4 L857.2 194.4 L864.0 187.6 L863.0 183.7 L857.2 185.7 L849.4 191.5 L837.6 194.4 L827.9 200.3 L818.1 208.1 L810.3 207.1 L807.4 198.3 L802.5 190.5 L803.5 182.7 L800.5 174.9 L802.5 167.1 L793.7 165.2 L790.8 157.3 L784.9 151.5 L785.9 145.6 L783.0 137.8 L786.5 136.7 L796.2 132.8 L806.0 130.8 L815.8 126.9 L825.5 122.1 L833.3 119.1 L841.1 113.3 L847.0 106.4 L845.0 103.5 L839.2 108.4 L831.4 114.2 L821.6 117.2 L811.8 122.1 L802.1 125.0 L792.3 121.1 L782.6 119.1 L779.6 112.3 L776.7 105.5 L779.6 97.6 L774.7 91.8 L770.8 84.0 L766.9 77.1 L759.1 76.2 L758.1 73.2 L765.0 70.3 L772.8 66.4 L778.6 60.5 L776.7 56.6 L768.9 60.5 L762.1 58.6 L765.0 53.7 L771.8 49.8 L770.8 45.9 L764.0 46.9 L759.1 42.0 L758.1 35.2 L761.1 29.3 L764.0 21.5 L765.0 15.6 L768.9 10.7 L769.5 4.0Z" fill="#d0d6ea"/>
<g clip-path="url(#lk)"><g filter="url(#blur8)">
<path d="M649.5 4.0 L649.8 10.7 L654.6 17.6 L658.6 25.4 L655.6 32.2 L659.5 39.1 L669.3 43.9 L673.2 48.8 L669.3 52.7 L658.6 53.7 L655.6 57.6 L661.5 58.6 L671.2 57.6 L672.2 64.4 L669.3 72.3 L674.2 78.1 L680.0 82.0 L682.0 89.8 L684.9 97.6 L682.0 102.5 L674.2 100.6 L665.4 103.5 L655.6 108.4 L648.3 109.5 L633.5 108.2 L624.3 105.0 L616.9 110.5 L604.0 121.7 L591.5 133.2 L594.5 138.0 L605.8 130.0 L618.7 119.8 L626.0 114.3 L633.5 116.3 L648.3 117.2 L659.4 114.2 L670.5 109.8 L677.9 107.8 L683.4 110.0 L679.1 119.5 L678.1 125.4 L685.0 123.4 L688.9 129.3 L687.9 137.1 L692.8 144.9 L696.7 152.7 L694.7 158.6 L685.0 162.5 L675.2 165.4 L665.5 168.3 L657.6 166.4 L651.8 167.4 L655.7 171.3 L663.5 174.2 L673.3 172.3 L685.0 169.3 L692.8 171.3 L686.9 178.1 L679.1 183.0 L685.0 184.0 L696.7 178.1 L704.5 180.1 L700.6 187.9 L692.8 193.7 L689.9 199.6 L696.7 197.6 L704.5 195.7 L708.4 203.5 L706.5 211.3 L710.4 217.2 L714.3 225.0 L704.5 230.8 L700.6 235.7 L708.4 234.7 L716.2 232.8 L716.2 240.6 L710.4 245.5 L715.2 245.9 L721.1 251.7 L726.9 257.6 L730.8 261.5 L726.9 269.3 L728.9 275.2 L722.1 278.1 L720.1 282.0 L726.9 283.9 L732.8 287.8 L728.9 296.6 L726.9 306.4 L725.0 312.3 L719.1 316.2 L713.3 315.2 L708.4 312.3 L705.5 308.3 L699.6 305.4 L693.7 304.4 L685.9 307.4 L682.0 314.2 L678.1 321.0 L680.1 324.9 L685.9 318.1 L693.7 312.3 L697.6 313.2 L701.5 318.1 L706.4 325.9 L708.4 331.8 L717.2 328.9 L726.9 327.9 L734.7 331.8 L736.7 335.7 L730.8 339.6 L723.0 343.5 L722.1 346.4 L728.9 347.4 L736.7 349.4 L739.6 353.3 L734.7 359.1 L732.8 365.0 L736.7 366.9 L743.5 365.0 L745.5 369.9 L738.6 374.7 L734.7 380.6 L734.7 385.9 L732.8 391.7 L736.7 395.6 L742.6 397.6 L745.5 399.5 L740.6 405.4 L736.7 411.2 L732.8 412.2 L725.0 410.3 L717.2 412.2 L713.3 415.2 L705.5 416.1 L699.6 411.2 L691.8 407.3 L682.0 408.3 L670.3 409.3 L658.6 409.3 L648.8 412.2 L652.7 414.2 L664.4 413.2 L678.1 414.2 L687.9 416.1 L695.7 419.1 L700.6 423.9 L699.6 428.8 L693.7 431.7 L684.0 433.7 L674.2 435.7 L668.3 438.6 L667.4 441.5 L674.2 442.5 L684.0 439.6 L695.7 437.6 L703.5 434.7 L709.4 430.8 L715.2 427.8 L725.0 428.8 L736.7 429.8 L744.5 430.8 L751.3 433.7 L750.4 438.6 L745.5 442.5 L742.6 446.4 L741.6 454.2 L741.6 464.0 L742.6 475.7 L744.5 489.4 L746.5 501.1 L748.8 515.6 L751.7 533.2 L753.7 550.8 L755.7 564.4 L760.5 576.2 L766.4 584.0 L772.3 582.0 L778.1 578.1 L784.0 580.1 L789.8 585.9 L797.6 585.9 L809.4 582.0 L821.1 581.0 L828.9 578.1 L840.6 576.2 L852.3 570.3 L864.0 562.5 L875.8 556.6 L885.5 549.8 L881.6 544.9 L877.7 541.0 L884.5 537.1 L885.5 531.2 L879.7 529.3 L875.8 523.4 L878.7 515.6 L876.7 507.8 L881.6 500.0 L883.5 497.6 L885.5 489.8 L895.2 488.9 L906.9 490.8 L914.7 487.9 L920.6 485.9 L928.4 485.9 L928.4 482.0 L922.6 477.1 L916.7 475.2 L910.8 477.1 L905.0 478.1 L906.9 475.2 L914.7 472.3 L924.5 467.4 L932.3 464.4 L930.4 458.6 L934.3 453.7 L942.1 451.7 L951.8 447.8 L955.8 442.0 L961.6 441.0 L967.5 442.0 L968.4 436.1 L965.5 429.3 L969.4 422.5 L977.2 419.5 L986.0 414.6 L987.0 410.7 L983.1 411.7 L973.3 416.6 L965.5 413.7 L967.5 407.8 L971.4 404.7 L975.3 396.9 L981.1 391.1 L985.0 383.3 L987.0 375.5 L992.9 371.5 L1000.7 367.6 L1000.7 363.7 L994.8 364.7 L987.0 367.6 L979.2 371.5 L977.2 379.4 L973.3 387.2 L967.5 391.1 L963.6 396.9 L955.8 404.7 L949.9 402.8 L951.8 403.9 L950.9 409.8 L949.9 419.5 L951.8 429.3 L949.9 436.1 L940.1 437.1 L928.4 439.1 L918.6 439.1 L916.7 445.9 L908.9 448.8 L904.0 448.8 L903.0 442.0 L899.1 436.1 L893.3 434.2 L886.4 437.1 L881.5 442.0 L873.7 437.1 L864.0 433.2 L857.1 429.3 L858.1 423.4 L865.9 425.4 L875.7 422.5 L882.5 417.6 L883.5 412.7 L875.7 414.6 L865.9 413.7 L858.1 407.8 L850.3 409.8 L842.5 405.9 L846.4 402.8 L854.2 398.9 L862.0 395.0 L865.9 389.1 L862.0 387.2 L857.1 383.3 L858.1 377.4 L856.2 371.5 L852.3 376.4 L845.4 379.4 L847.4 373.5 L852.3 363.7 L855.2 354.9 L853.2 351.0 L848.3 355.9 L844.4 367.6 L840.5 379.4 L836.6 385.2 L830.8 377.4 L826.9 369.6 L828.8 361.8 L830.8 355.9 L824.9 354.0 L819.1 350.1 L823.0 342.3 L822.0 332.5 L824.9 324.7 L826.9 318.8 L819.1 315.9 L817.1 309.1 L819.1 303.2 L826.9 300.3 L834.7 296.4 L832.7 292.5 L821.0 294.4 L811.2 295.4 L809.3 291.5 L815.2 286.6 L824.9 283.7 L828.8 278.8 L823.0 275.9 L813.2 277.8 L818.1 272.6 L814.2 266.7 L816.2 262.8 L824.0 257.9 L822.0 255.0 L810.3 256.0 L808.3 253.0 L815.2 247.2 L812.3 241.3 L815.2 235.5 L812.3 229.6 L818.1 225.7 L820.1 220.8 L810.3 221.8 L801.5 222.8 L802.5 219.8 L812.3 215.9 L820.1 212.0 L827.9 205.2 L837.6 199.3 L849.4 197.4 L857.2 194.4 L864.0 187.6 L863.0 183.7 L857.2 185.7 L849.4 191.5 L837.6 194.4 L827.9 200.3 L818.1 208.1 L810.3 207.1 L807.4 198.3 L802.5 190.5 L803.5 182.7 L800.5 174.9 L802.5 167.1 L793.7 165.2 L790.8 157.3 L784.9 151.5 L785.9 145.6 L783.0 137.8 L786.5 136.7 L796.2 132.8 L806.0 130.8 L815.8 126.9 L825.5 122.1 L833.3 119.1 L841.1 113.3 L847.0 106.4 L845.0 103.5 L839.2 108.4 L831.4 114.2 L821.6 117.2 L811.8 122.1 L802.1 125.0 L792.3 121.1 L782.6 119.1 L779.6 112.3 L776.7 105.5 L779.6 97.6 L774.7 91.8 L770.8 84.0 L766.9 77.1 L759.1 76.2 L758.1 73.2 L765.0 70.3 L772.8 66.4 L778.6 60.5 L776.7 56.6 L768.9 60.5 L762.1 58.6 L765.0 53.7 L771.8 49.8 L770.8 45.9 L764.0 46.9 L759.1 42.0 L758.1 35.2 L761.1 29.3 L764.0 21.5 L765.0 15.6 L768.9 10.7 L769.5 4.0" fill="none" stroke="#e3e7f3" stroke-width="17.849999999999998" stroke-linejoin="round"/>
<path d="M696.7 178.1 L704.5 180.1 L700.6 187.9 L692.8 193.7 L696.7 197.6 L704.5 195.7 L708.4 203.5 L706.5 211.3 L710.4 217.2 L714.3 225.0 L704.5 230.8 L700.6 235.7 L708.4 234.7 L716.2 232.8 L716.2 240.6 L710.4 245.5 L715.2 245.9 L721.1 251.7 L726.9 257.6 L730.8 261.5" fill="none" stroke="#e3e7f3" stroke-width="42.5" stroke-linejoin="round"/>
<path d="M793.7 165.2 L802.5 167.1 L800.5 174.9 L803.5 182.7 L802.5 190.5 L807.4 198.3 L810.3 207.1 L818.1 208.1 L827.9 200.3 L827.9 205.2 L820.1 212.0 L812.3 215.9 L802.5 219.8 L801.5 222.8 L810.3 221.8 L820.1 220.8 L818.1 225.7 L812.3 229.6" fill="none" stroke="#e3e7f3" stroke-width="25.5" stroke-linejoin="round"/>
<path d="M649.5 4.0 L649.8 10.7 L654.6 17.6 L658.6 25.4 L655.6 32.2 L659.5 39.1 L669.3 43.9 L673.2 48.8 L669.3 52.7 L658.6 53.7 L655.6 57.6 L661.5 58.6 L671.2 57.6 L672.2 64.4 L669.3 72.3 L674.2 78.1 L680.0 82.0 L682.0 89.8 L684.9 97.6" fill="none" stroke="#e3e7f3" stroke-width="42.5" stroke-linejoin="round"/>
<path d="M769.5 4.0 L768.9 10.7 L765.0 15.6 L764.0 21.5 L761.1 29.3 L758.1 35.2 L759.1 42.0 L764.0 46.9 L770.8 45.9 L771.8 49.8 L765.0 53.7 L762.1 58.6 L768.9 60.5 L776.7 56.6 L778.6 60.5 L772.8 66.4 L765.0 70.3 L758.1 73.2 L759.1 76.2 L766.9 77.1 L770.8 84.0 L774.7 91.8 L779.6 97.6 L776.7 105.5 L779.6 112.3 L782.6 119.1 L792.3 121.1" fill="none" stroke="#e3e7f3" stroke-width="40.8" stroke-linejoin="round"/>
<path d="M741.6 454.2 L741.6 464.0 L742.6 475.7 L744.5 489.4 L746.5 501.1 L748.8 515.6 L751.7 533.2 L881.6 544.9 L877.7 541.0 L884.5 537.1 L885.5 531.2 L879.7 529.3 L875.8 523.4 L878.7 515.6 L876.7 507.8 L881.6 500.0" fill="none" stroke="#e3e7f3" stroke-width="32.3" stroke-linejoin="round"/>
<path d="M753.7 550.8 L755.7 564.4 L760.5 576.2 L766.4 584.0 L772.3 582.0 L778.1 578.1 L784.0 580.1 L789.8 585.9 L797.6 585.9 L809.4 582.0 L821.1 581.0 L828.9 578.1 L840.6 576.2 L852.3 570.3 L864.0 562.5 L875.8 556.6 L885.5 549.8" fill="none" stroke="#e3e7f3" stroke-width="56.1" stroke-linejoin="round"/>
<path d="M842.5 405.9 L850.3 409.8 L858.1 407.8 L865.9 413.7 L875.7 414.6 L883.5 412.7 L882.5 417.6 L875.7 422.5 L865.9 425.4 L858.1 423.4 L857.1 429.3 L864.0 433.2 L873.7 437.1 L881.5 442.0 L886.4 437.1 L893.3 434.2 L899.1 436.1 L903.0 442.0 L904.0 448.8 L908.9 448.8 L916.7 445.9 L918.6 439.1 L928.4 439.1 L940.1 437.1 L942.1 451.7 L934.3 453.7 L930.4 458.6 L932.3 464.4 L924.5 467.4 L914.7 472.3 L906.9 475.2 L905.0 478.1 L910.8 477.1 L916.7 475.2 L922.6 477.1 L928.4 482.0 L928.4 485.9 L920.6 485.9 L914.7 487.9 L906.9 490.8 L895.2 488.9 L885.5 489.8 L883.5 497.6" fill="none" stroke="#e3e7f3" stroke-width="61.199999999999996" stroke-linejoin="round"/>
<path d="M649.5 4.0 L649.8 10.7 L654.6 17.6 L658.6 25.4 L655.6 32.2 L659.5 39.1 L669.3 43.9 L673.2 48.8 L669.3 52.7 L658.6 53.7 L655.6 57.6 L661.5 58.6 L671.2 57.6 L672.2 64.4 L669.3 72.3 L674.2 78.1 L680.0 82.0 L682.0 89.8 L684.9 97.6 L682.0 102.5 L674.2 100.6 L665.4 103.5 L655.6 108.4 L648.3 109.5 L633.5 108.2 L624.3 105.0 L616.9 110.5 L604.0 121.7 L591.5 133.2 L594.5 138.0 L605.8 130.0 L618.7 119.8 L626.0 114.3 L633.5 116.3 L648.3 117.2 L659.4 114.2 L670.5 109.8 L677.9 107.8 L683.4 110.0 L679.1 119.5 L678.1 125.4 L685.0 123.4 L688.9 129.3 L687.9 137.1 L692.8 144.9 L696.7 152.7 L694.7 158.6 L685.0 162.5 L675.2 165.4 L665.5 168.3 L657.6 166.4 L651.8 167.4 L655.7 171.3 L663.5 174.2 L673.3 172.3 L685.0 169.3 L692.8 171.3 L686.9 178.1 L679.1 183.0 L685.0 184.0 L696.7 178.1 L704.5 180.1 L700.6 187.9 L692.8 193.7 L689.9 199.6 L696.7 197.6 L704.5 195.7 L708.4 203.5 L706.5 211.3 L710.4 217.2 L714.3 225.0 L704.5 230.8 L700.6 235.7 L708.4 234.7 L716.2 232.8 L716.2 240.6 L710.4 245.5 L715.2 245.9 L721.1 251.7 L726.9 257.6 L730.8 261.5 L726.9 269.3 L728.9 275.2 L722.1 278.1 L720.1 282.0 L726.9 283.9 L732.8 287.8 L728.9 296.6 L726.9 306.4 L725.0 312.3 L719.1 316.2 L713.3 315.2 L708.4 312.3 L705.5 308.3 L699.6 305.4 L693.7 304.4 L685.9 307.4 L682.0 314.2 L678.1 321.0 L680.1 324.9 L685.9 318.1 L693.7 312.3 L697.6 313.2 L701.5 318.1 L706.4 325.9 L708.4 331.8 L717.2 328.9 L726.9 327.9 L734.7 331.8 L736.7 335.7 L730.8 339.6 L723.0 343.5 L722.1 346.4 L728.9 347.4 L736.7 349.4 L739.6 353.3 L734.7 359.1 L732.8 365.0 L736.7 366.9 L743.5 365.0 L745.5 369.9 L738.6 374.7 L734.7 380.6 L734.7 385.9 L732.8 391.7 L736.7 395.6 L742.6 397.6 L745.5 399.5 L740.6 405.4 L736.7 411.2 L732.8 412.2 L725.0 410.3 L717.2 412.2 L713.3 415.2 L705.5 416.1 L699.6 411.2 L691.8 407.3 L682.0 408.3 L670.3 409.3 L658.6 409.3 L648.8 412.2 L652.7 414.2 L664.4 413.2 L678.1 414.2 L687.9 416.1 L695.7 419.1 L700.6 423.9 L699.6 428.8 L693.7 431.7 L684.0 433.7 L674.2 435.7 L668.3 438.6 L667.4 441.5 L674.2 442.5 L684.0 439.6 L695.7 437.6 L703.5 434.7 L709.4 430.8 L715.2 427.8 L725.0 428.8 L736.7 429.8 L744.5 430.8 L751.3 433.7 L750.4 438.6 L745.5 442.5 L742.6 446.4 L741.6 454.2 L741.6 464.0 L742.6 475.7 L744.5 489.4 L746.5 501.1 L748.8 515.6 L751.7 533.2 L753.7 550.8 L755.7 564.4 L760.5 576.2 L766.4 584.0 L772.3 582.0 L778.1 578.1 L784.0 580.1 L789.8 585.9 L797.6 585.9 L809.4 582.0 L821.1 581.0 L828.9 578.1 L840.6 576.2 L852.3 570.3 L864.0 562.5 L875.8 556.6 L885.5 549.8 L881.6 544.9 L877.7 541.0 L884.5 537.1 L885.5 531.2 L879.7 529.3 L875.8 523.4 L878.7 515.6 L876.7 507.8 L881.6 500.0 L883.5 497.6 L885.5 489.8 L895.2 488.9 L906.9 490.8 L914.7 487.9 L920.6 485.9 L928.4 485.9 L928.4 482.0 L922.6 477.1 L916.7 475.2 L910.8 477.1 L905.0 478.1 L906.9 475.2 L914.7 472.3 L924.5 467.4 L932.3 464.4 L930.4 458.6 L934.3 453.7 L942.1 451.7 L951.8 447.8 L955.8 442.0 L961.6 441.0 L967.5 442.0 L968.4 436.1 L965.5 429.3 L969.4 422.5 L977.2 419.5 L986.0 414.6 L987.0 410.7 L983.1 411.7 L973.3 416.6 L965.5 413.7 L967.5 407.8 L971.4 404.7 L975.3 396.9 L981.1 391.1 L985.0 383.3 L987.0 375.5 L992.9 371.5 L1000.7 367.6 L1000.7 363.7 L994.8 364.7 L987.0 367.6 L979.2 371.5 L977.2 379.4 L973.3 387.2 L967.5 391.1 L963.6 396.9 L955.8 404.7 L949.9 402.8 L951.8 403.9 L950.9 409.8 L949.9 419.5 L951.8 429.3 L949.9 436.1 L940.1 437.1 L928.4 439.1 L918.6 439.1 L916.7 445.9 L908.9 448.8 L904.0 448.8 L903.0 442.0 L899.1 436.1 L893.3 434.2 L886.4 437.1 L881.5 442.0 L873.7 437.1 L864.0 433.2 L857.1 429.3 L858.1 423.4 L865.9 425.4 L875.7 422.5 L882.5 417.6 L883.5 412.7 L875.7 414.6 L865.9 413.7 L858.1 407.8 L850.3 409.8 L842.5 405.9 L846.4 402.8 L854.2 398.9 L862.0 395.0 L865.9 389.1 L862.0 387.2 L857.1 383.3 L858.1 377.4 L856.2 371.5 L852.3 376.4 L845.4 379.4 L847.4 373.5 L852.3 363.7 L855.2 354.9 L853.2 351.0 L848.3 355.9 L844.4 367.6 L840.5 379.4 L836.6 385.2 L830.8 377.4 L826.9 369.6 L828.8 361.8 L830.8 355.9 L824.9 354.0 L819.1 350.1 L823.0 342.3 L822.0 332.5 L824.9 324.7 L826.9 318.8 L819.1 315.9 L817.1 309.1 L819.1 303.2 L826.9 300.3 L834.7 296.4 L832.7 292.5 L821.0 294.4 L811.2 295.4 L809.3 291.5 L815.2 286.6 L824.9 283.7 L828.8 278.8 L823.0 275.9 L813.2 277.8 L818.1 272.6 L814.2 266.7 L816.2 262.8 L824.0 257.9 L822.0 255.0 L810.3 256.0 L808.3 253.0 L815.2 247.2 L812.3 241.3 L815.2 235.5 L812.3 229.6 L818.1 225.7 L820.1 220.8 L810.3 221.8 L801.5 222.8 L802.5 219.8 L812.3 215.9 L820.1 212.0 L827.9 205.2 L837.6 199.3 L849.4 197.4 L857.2 194.4 L864.0 187.6 L863.0 183.7 L857.2 185.7 L849.4 191.5 L837.6 194.4 L827.9 200.3 L818.1 208.1 L810.3 207.1 L807.4 198.3 L802.5 190.5 L803.5 182.7 L800.5 174.9 L802.5 167.1 L793.7 165.2 L790.8 157.3 L784.9 151.5 L785.9 145.6 L783.0 137.8 L786.5 136.7 L796.2 132.8 L806.0 130.8 L815.8 126.9 L825.5 122.1 L833.3 119.1 L841.1 113.3 L847.0 106.4 L845.0 103.5 L839.2 108.4 L831.4 114.2 L821.6 117.2 L811.8 122.1 L802.1 125.0 L792.3 121.1 L782.6 119.1 L779.6 112.3 L776.7 105.5 L779.6 97.6 L774.7 91.8 L770.8 84.0 L766.9 77.1 L759.1 76.2 L758.1 73.2 L765.0 70.3 L772.8 66.4 L778.6 60.5 L776.7 56.6 L768.9 60.5 L762.1 58.6 L765.0 53.7 L771.8 49.8 L770.8 45.9 L764.0 46.9 L759.1 42.0 L758.1 35.2 L761.1 29.3 L764.0 21.5 L765.0 15.6 L768.9 10.7 L769.5 4.0" fill="none" stroke="#eef1f8" stroke-width="10" stroke-linejoin="round"/>
</g></g></g>
<g clip-path="url(#lk)">
<path d="M649.5 4.0 L649.8 10.7 L654.6 17.6 L658.6 25.4 L655.6 32.2 L659.5 39.1 L669.3 43.9 L673.2 48.8 L669.3 52.7 L658.6 53.7 L655.6 57.6 L661.5 58.6 L671.2 57.6 L672.2 64.4 L669.3 72.3 L674.2 78.1 L680.0 82.0 L682.0 89.8 L684.9 97.6 L682.0 102.5 L674.2 100.6 L665.4 103.5 L655.6 108.4 L648.3 109.5 L633.5 108.2 L624.3 105.0 L616.9 110.5 L604.0 121.7 L591.5 133.2 L594.5 138.0 L605.8 130.0 L618.7 119.8 L626.0 114.3 L633.5 116.3 L648.3 117.2 L659.4 114.2 L670.5 109.8 L677.9 107.8 L683.4 110.0 L679.1 119.5 L678.1 125.4 L685.0 123.4 L688.9 129.3 L687.9 137.1 L692.8 144.9 L696.7 152.7 L694.7 158.6 L685.0 162.5 L675.2 165.4 L665.5 168.3 L657.6 166.4 L651.8 167.4 L655.7 171.3 L663.5 174.2 L673.3 172.3 L685.0 169.3 L692.8 171.3 L686.9 178.1 L679.1 183.0 L685.0 184.0 L696.7 178.1 L704.5 180.1 L700.6 187.9 L692.8 193.7 L689.9 199.6 L696.7 197.6 L704.5 195.7 L708.4 203.5 L706.5 211.3 L710.4 217.2 L714.3 225.0 L704.5 230.8 L700.6 235.7 L708.4 234.7 L716.2 232.8 L716.2 240.6 L710.4 245.5 L715.2 245.9 L721.1 251.7 L726.9 257.6 L730.8 261.5 L726.9 269.3 L728.9 275.2 L722.1 278.1 L720.1 282.0 L726.9 283.9 L732.8 287.8 L728.9 296.6 L726.9 306.4 L725.0 312.3 L719.1 316.2 L713.3 315.2 L708.4 312.3 L705.5 308.3 L699.6 305.4 L693.7 304.4 L685.9 307.4 L682.0 314.2 L678.1 321.0 L680.1 324.9 L685.9 318.1 L693.7 312.3 L697.6 313.2 L701.5 318.1 L706.4 325.9 L708.4 331.8 L717.2 328.9 L726.9 327.9 L734.7 331.8 L736.7 335.7 L730.8 339.6 L723.0 343.5 L722.1 346.4 L728.9 347.4 L736.7 349.4 L739.6 353.3 L734.7 359.1 L732.8 365.0 L736.7 366.9 L743.5 365.0 L745.5 369.9 L738.6 374.7 L734.7 380.6 L734.7 385.9 L732.8 391.7 L736.7 395.6 L742.6 397.6 L745.5 399.5 L740.6 405.4 L736.7 411.2 L732.8 412.2 L725.0 410.3 L717.2 412.2 L713.3 415.2 L705.5 416.1 L699.6 411.2 L691.8 407.3 L682.0 408.3 L670.3 409.3 L658.6 409.3 L648.8 412.2 L652.7 414.2 L664.4 413.2 L678.1 414.2 L687.9 416.1 L695.7 419.1 L700.6 423.9 L699.6 428.8 L693.7 431.7 L684.0 433.7 L674.2 435.7 L668.3 438.6 L667.4 441.5 L674.2 442.5 L684.0 439.6 L695.7 437.6 L703.5 434.7 L709.4 430.8 L715.2 427.8 L725.0 428.8 L736.7 429.8 L744.5 430.8 L751.3 433.7 L750.4 438.6 L745.5 442.5 L742.6 446.4 L741.6 454.2 L741.6 464.0 L742.6 475.7 L744.5 489.4 L746.5 501.1 L748.8 515.6 L751.7 533.2 L753.7 550.8 L755.7 564.4 L760.5 576.2 L766.4 584.0 L772.3 582.0 L778.1 578.1 L784.0 580.1 L789.8 585.9 L797.6 585.9 L809.4 582.0 L821.1 581.0 L828.9 578.1 L840.6 576.2 L852.3 570.3 L864.0 562.5 L875.8 556.6 L885.5 549.8 L881.6 544.9 L877.7 541.0 L884.5 537.1 L885.5 531.2 L879.7 529.3 L875.8 523.4 L878.7 515.6 L876.7 507.8 L881.6 500.0 L883.5 497.6 L885.5 489.8 L895.2 488.9 L906.9 490.8 L914.7 487.9 L920.6 485.9 L928.4 485.9 L928.4 482.0 L922.6 477.1 L916.7 475.2 L910.8 477.1 L905.0 478.1 L906.9 475.2 L914.7 472.3 L924.5 467.4 L932.3 464.4 L930.4 458.6 L934.3 453.7 L942.1 451.7 L951.8 447.8 L955.8 442.0 L961.6 441.0 L967.5 442.0 L968.4 436.1 L965.5 429.3 L969.4 422.5 L977.2 419.5 L986.0 414.6 L987.0 410.7 L983.1 411.7 L973.3 416.6 L965.5 413.7 L967.5 407.8 L971.4 404.7 L975.3 396.9 L981.1 391.1 L985.0 383.3 L987.0 375.5 L992.9 371.5 L1000.7 367.6 L1000.7 363.7 L994.8 364.7 L987.0 367.6 L979.2 371.5 L977.2 379.4 L973.3 387.2 L967.5 391.1 L963.6 396.9 L955.8 404.7 L949.9 402.8 L951.8 403.9 L950.9 409.8 L949.9 419.5 L951.8 429.3 L949.9 436.1 L940.1 437.1 L928.4 439.1 L918.6 439.1 L916.7 445.9 L908.9 448.8 L904.0 448.8 L903.0 442.0 L899.1 436.1 L893.3 434.2 L886.4 437.1 L881.5 442.0 L873.7 437.1 L864.0 433.2 L857.1 429.3 L858.1 423.4 L865.9 425.4 L875.7 422.5 L882.5 417.6 L883.5 412.7 L875.7 414.6 L865.9 413.7 L858.1 407.8 L850.3 409.8 L842.5 405.9 L846.4 402.8 L854.2 398.9 L862.0 395.0 L865.9 389.1 L862.0 387.2 L857.1 383.3 L858.1 377.4 L856.2 371.5 L852.3 376.4 L845.4 379.4 L847.4 373.5 L852.3 363.7 L855.2 354.9 L853.2 351.0 L848.3 355.9 L844.4 367.6 L840.5 379.4 L836.6 385.2 L830.8 377.4 L826.9 369.6 L828.8 361.8 L830.8 355.9 L824.9 354.0 L819.1 350.1 L823.0 342.3 L822.0 332.5 L824.9 324.7 L826.9 318.8 L819.1 315.9 L817.1 309.1 L819.1 303.2 L826.9 300.3 L834.7 296.4 L832.7 292.5 L821.0 294.4 L811.2 295.4 L809.3 291.5 L815.2 286.6 L824.9 283.7 L828.8 278.8 L823.0 275.9 L813.2 277.8 L818.1 272.6 L814.2 266.7 L816.2 262.8 L824.0 257.9 L822.0 255.0 L810.3 256.0 L808.3 253.0 L815.2 247.2 L812.3 241.3 L815.2 235.5 L812.3 229.6 L818.1 225.7 L820.1 220.8 L810.3 221.8 L801.5 222.8 L802.5 219.8 L812.3 215.9 L820.1 212.0 L827.9 205.2 L837.6 199.3 L849.4 197.4 L857.2 194.4 L864.0 187.6 L863.0 183.7 L857.2 185.7 L849.4 191.5 L837.6 194.4 L827.9 200.3 L818.1 208.1 L810.3 207.1 L807.4 198.3 L802.5 190.5 L803.5 182.7 L800.5 174.9 L802.5 167.1 L793.7 165.2 L790.8 157.3 L784.9 151.5 L785.9 145.6 L783.0 137.8 L786.5 136.7 L796.2 132.8 L806.0 130.8 L815.8 126.9 L825.5 122.1 L833.3 119.1 L841.1 113.3 L847.0 106.4 L845.0 103.5 L839.2 108.4 L831.4 114.2 L821.6 117.2 L811.8 122.1 L802.1 125.0 L792.3 121.1 L782.6 119.1 L779.6 112.3 L776.7 105.5 L779.6 97.6 L774.7 91.8 L770.8 84.0 L766.9 77.1 L759.1 76.2 L758.1 73.2 L765.0 70.3 L772.8 66.4 L778.6 60.5 L776.7 56.6 L768.9 60.5 L762.1 58.6 L765.0 53.7 L771.8 49.8 L770.8 45.9 L764.0 46.9 L759.1 42.0 L758.1 35.2 L761.1 29.3 L764.0 21.5 L765.0 15.6 L768.9 10.7 L769.5 4.0" fill="none" stroke="url(#sQ)" stroke-width="27.3" stroke-linejoin="round"/>
<path d="M696.7 178.1 L704.5 180.1 L700.6 187.9 L692.8 193.7 L696.7 197.6 L704.5 195.7 L708.4 203.5 L706.5 211.3 L710.4 217.2 L714.3 225.0 L704.5 230.8 L700.6 235.7 L708.4 234.7 L716.2 232.8 L716.2 240.6 L710.4 245.5 L715.2 245.9 L721.1 251.7 L726.9 257.6 L730.8 261.5" fill="none" stroke="url(#sQ)" stroke-width="65.0" stroke-linejoin="round"/>
<path d="M793.7 165.2 L802.5 167.1 L800.5 174.9 L803.5 182.7 L802.5 190.5 L807.4 198.3 L810.3 207.1 L818.1 208.1 L827.9 200.3 L827.9 205.2 L820.1 212.0 L812.3 215.9 L802.5 219.8 L801.5 222.8 L810.3 221.8 L820.1 220.8 L818.1 225.7 L812.3 229.6" fill="none" stroke="url(#sQ)" stroke-width="39.0" stroke-linejoin="round"/>
<path d="M649.5 4.0 L649.8 10.7 L654.6 17.6 L658.6 25.4 L655.6 32.2 L659.5 39.1 L669.3 43.9 L673.2 48.8 L669.3 52.7 L658.6 53.7 L655.6 57.6 L661.5 58.6 L671.2 57.6 L672.2 64.4 L669.3 72.3 L674.2 78.1 L680.0 82.0 L682.0 89.8 L684.9 97.6" fill="none" stroke="url(#sQ)" stroke-width="65.0" stroke-linejoin="round"/>
<path d="M769.5 4.0 L768.9 10.7 L765.0 15.6 L764.0 21.5 L761.1 29.3 L758.1 35.2 L759.1 42.0 L764.0 46.9 L770.8 45.9 L771.8 49.8 L765.0 53.7 L762.1 58.6 L768.9 60.5 L776.7 56.6 L778.6 60.5 L772.8 66.4 L765.0 70.3 L758.1 73.2 L759.1 76.2 L766.9 77.1 L770.8 84.0 L774.7 91.8 L779.6 97.6 L776.7 105.5 L779.6 112.3 L782.6 119.1 L792.3 121.1" fill="none" stroke="url(#sQ)" stroke-width="62.400000000000006" stroke-linejoin="round"/>
<path d="M741.6 454.2 L741.6 464.0 L742.6 475.7 L744.5 489.4 L746.5 501.1 L748.8 515.6 L751.7 533.2 L881.6 544.9 L877.7 541.0 L884.5 537.1 L885.5 531.2 L879.7 529.3 L875.8 523.4 L878.7 515.6 L876.7 507.8 L881.6 500.0" fill="none" stroke="url(#sQ)" stroke-width="49.4" stroke-linejoin="round"/>
<path d="M753.7 550.8 L755.7 564.4 L760.5 576.2 L766.4 584.0 L772.3 582.0 L778.1 578.1 L784.0 580.1 L789.8 585.9 L797.6 585.9 L809.4 582.0 L821.1 581.0 L828.9 578.1 L840.6 576.2 L852.3 570.3 L864.0 562.5 L875.8 556.6 L885.5 549.8" fill="none" stroke="url(#sQ)" stroke-width="85.8" stroke-linejoin="round"/>
<path d="M842.5 405.9 L850.3 409.8 L858.1 407.8 L865.9 413.7 L875.7 414.6 L883.5 412.7 L882.5 417.6 L875.7 422.5 L865.9 425.4 L858.1 423.4 L857.1 429.3 L864.0 433.2 L873.7 437.1 L881.5 442.0 L886.4 437.1 L893.3 434.2 L899.1 436.1 L903.0 442.0 L904.0 448.8 L908.9 448.8 L916.7 445.9 L918.6 439.1 L928.4 439.1 L940.1 437.1 L942.1 451.7 L934.3 453.7 L930.4 458.6 L932.3 464.4 L924.5 467.4 L914.7 472.3 L906.9 475.2 L905.0 478.1 L910.8 477.1 L916.7 475.2 L922.6 477.1 L928.4 482.0 L928.4 485.9 L920.6 485.9 L914.7 487.9 L906.9 490.8 L895.2 488.9 L885.5 489.8 L883.5 497.6" fill="none" stroke="url(#sQ)" stroke-width="93.60000000000001" stroke-linejoin="round"/>
<path d="M649.5 4.0 L649.8 10.7 L654.6 17.6 L658.6 25.4 L655.6 32.2 L659.5 39.1 L669.3 43.9 L673.2 48.8 L669.3 52.7 L658.6 53.7 L655.6 57.6 L661.5 58.6 L671.2 57.6 L672.2 64.4 L669.3 72.3 L674.2 78.1 L680.0 82.0 L682.0 89.8 L684.9 97.6 L682.0 102.5 L674.2 100.6 L665.4 103.5 L655.6 108.4 L648.3 109.5 L633.5 108.2 L624.3 105.0 L616.9 110.5 L604.0 121.7 L591.5 133.2 L594.5 138.0 L605.8 130.0 L618.7 119.8 L626.0 114.3 L633.5 116.3 L648.3 117.2 L659.4 114.2 L670.5 109.8 L677.9 107.8 L683.4 110.0 L679.1 119.5 L678.1 125.4 L685.0 123.4 L688.9 129.3 L687.9 137.1 L692.8 144.9 L696.7 152.7 L694.7 158.6 L685.0 162.5 L675.2 165.4 L665.5 168.3 L657.6 166.4 L651.8 167.4 L655.7 171.3 L663.5 174.2 L673.3 172.3 L685.0 169.3 L692.8 171.3 L686.9 178.1 L679.1 183.0 L685.0 184.0 L696.7 178.1 L704.5 180.1 L700.6 187.9 L692.8 193.7 L689.9 199.6 L696.7 197.6 L704.5 195.7 L708.4 203.5 L706.5 211.3 L710.4 217.2 L714.3 225.0 L704.5 230.8 L700.6 235.7 L708.4 234.7 L716.2 232.8 L716.2 240.6 L710.4 245.5 L715.2 245.9 L721.1 251.7 L726.9 257.6 L730.8 261.5 L726.9 269.3 L728.9 275.2 L722.1 278.1 L720.1 282.0 L726.9 283.9 L732.8 287.8 L728.9 296.6 L726.9 306.4 L725.0 312.3 L719.1 316.2 L713.3 315.2 L708.4 312.3 L705.5 308.3 L699.6 305.4 L693.7 304.4 L685.9 307.4 L682.0 314.2 L678.1 321.0 L680.1 324.9 L685.9 318.1 L693.7 312.3 L697.6 313.2 L701.5 318.1 L706.4 325.9 L708.4 331.8 L717.2 328.9 L726.9 327.9 L734.7 331.8 L736.7 335.7 L730.8 339.6 L723.0 343.5 L722.1 346.4 L728.9 347.4 L736.7 349.4 L739.6 353.3 L734.7 359.1 L732.8 365.0 L736.7 366.9 L743.5 365.0 L745.5 369.9 L738.6 374.7 L734.7 380.6 L734.7 385.9 L732.8 391.7 L736.7 395.6 L742.6 397.6 L745.5 399.5 L740.6 405.4 L736.7 411.2 L732.8 412.2 L725.0 410.3 L717.2 412.2 L713.3 415.2 L705.5 416.1 L699.6 411.2 L691.8 407.3 L682.0 408.3 L670.3 409.3 L658.6 409.3 L648.8 412.2 L652.7 414.2 L664.4 413.2 L678.1 414.2 L687.9 416.1 L695.7 419.1 L700.6 423.9 L699.6 428.8 L693.7 431.7 L684.0 433.7 L674.2 435.7 L668.3 438.6 L667.4 441.5 L674.2 442.5 L684.0 439.6 L695.7 437.6 L703.5 434.7 L709.4 430.8 L715.2 427.8 L725.0 428.8 L736.7 429.8 L744.5 430.8 L751.3 433.7 L750.4 438.6 L745.5 442.5 L742.6 446.4 L741.6 454.2 L741.6 464.0 L742.6 475.7 L744.5 489.4 L746.5 501.1 L748.8 515.6 L751.7 533.2 L753.7 550.8 L755.7 564.4 L760.5 576.2 L766.4 584.0 L772.3 582.0 L778.1 578.1 L784.0 580.1 L789.8 585.9 L797.6 585.9 L809.4 582.0 L821.1 581.0 L828.9 578.1 L840.6 576.2 L852.3 570.3 L864.0 562.5 L875.8 556.6 L885.5 549.8 L881.6 544.9 L877.7 541.0 L884.5 537.1 L885.5 531.2 L879.7 529.3 L875.8 523.4 L878.7 515.6 L876.7 507.8 L881.6 500.0 L883.5 497.6 L885.5 489.8 L895.2 488.9 L906.9 490.8 L914.7 487.9 L920.6 485.9 L928.4 485.9 L928.4 482.0 L922.6 477.1 L916.7 475.2 L910.8 477.1 L905.0 478.1 L906.9 475.2 L914.7 472.3 L924.5 467.4 L932.3 464.4 L930.4 458.6 L934.3 453.7 L942.1 451.7 L951.8 447.8 L955.8 442.0 L961.6 441.0 L967.5 442.0 L968.4 436.1 L965.5 429.3 L969.4 422.5 L977.2 419.5 L986.0 414.6 L987.0 410.7 L983.1 411.7 L973.3 416.6 L965.5 413.7 L967.5 407.8 L971.4 404.7 L975.3 396.9 L981.1 391.1 L985.0 383.3 L987.0 375.5 L992.9 371.5 L1000.7 367.6 L1000.7 363.7 L994.8 364.7 L987.0 367.6 L979.2 371.5 L977.2 379.4 L973.3 387.2 L967.5 391.1 L963.6 396.9 L955.8 404.7 L949.9 402.8 L951.8 403.9 L950.9 409.8 L949.9 419.5 L951.8 429.3 L949.9 436.1 L940.1 437.1 L928.4 439.1 L918.6 439.1 L916.7 445.9 L908.9 448.8 L904.0 448.8 L903.0 442.0 L899.1 436.1 L893.3 434.2 L886.4 437.1 L881.5 442.0 L873.7 437.1 L864.0 433.2 L857.1 429.3 L858.1 423.4 L865.9 425.4 L875.7 422.5 L882.5 417.6 L883.5 412.7 L875.7 414.6 L865.9 413.7 L858.1 407.8 L850.3 409.8 L842.5 405.9 L846.4 402.8 L854.2 398.9 L862.0 395.0 L865.9 389.1 L862.0 387.2 L857.1 383.3 L858.1 377.4 L856.2 371.5 L852.3 376.4 L845.4 379.4 L847.4 373.5 L852.3 363.7 L855.2 354.9 L853.2 351.0 L848.3 355.9 L844.4 367.6 L840.5 379.4 L836.6 385.2 L830.8 377.4 L826.9 369.6 L828.8 361.8 L830.8 355.9 L824.9 354.0 L819.1 350.1 L823.0 342.3 L822.0 332.5 L824.9 324.7 L826.9 318.8 L819.1 315.9 L817.1 309.1 L819.1 303.2 L826.9 300.3 L834.7 296.4 L832.7 292.5 L821.0 294.4 L811.2 295.4 L809.3 291.5 L815.2 286.6 L824.9 283.7 L828.8 278.8 L823.0 275.9 L813.2 277.8 L818.1 272.6 L814.2 266.7 L816.2 262.8 L824.0 257.9 L822.0 255.0 L810.3 256.0 L808.3 253.0 L815.2 247.2 L812.3 241.3 L815.2 235.5 L812.3 229.6 L818.1 225.7 L820.1 220.8 L810.3 221.8 L801.5 222.8 L802.5 219.8 L812.3 215.9 L820.1 212.0 L827.9 205.2 L837.6 199.3 L849.4 197.4 L857.2 194.4 L864.0 187.6 L863.0 183.7 L857.2 185.7 L849.4 191.5 L837.6 194.4 L827.9 200.3 L818.1 208.1 L810.3 207.1 L807.4 198.3 L802.5 190.5 L803.5 182.7 L800.5 174.9 L802.5 167.1 L793.7 165.2 L790.8 157.3 L784.9 151.5 L785.9 145.6 L783.0 137.8 L786.5 136.7 L796.2 132.8 L806.0 130.8 L815.8 126.9 L825.5 122.1 L833.3 119.1 L841.1 113.3 L847.0 106.4 L845.0 103.5 L839.2 108.4 L831.4 114.2 L821.6 117.2 L811.8 122.1 L802.1 125.0 L792.3 121.1 L782.6 119.1 L779.6 112.3 L776.7 105.5 L779.6 97.6 L774.7 91.8 L770.8 84.0 L766.9 77.1 L759.1 76.2 L758.1 73.2 L765.0 70.3 L772.8 66.4 L778.6 60.5 L776.7 56.6 L768.9 60.5 L762.1 58.6 L765.0 53.7 L771.8 49.8 L770.8 45.9 L764.0 46.9 L759.1 42.0 L758.1 35.2 L761.1 29.3 L764.0 21.5 L765.0 15.6 L768.9 10.7 L769.5 4.0" fill="none" stroke="url(#sP)" stroke-width="21" stroke-linejoin="round"/>
<path d="M696.7 178.1 L704.5 180.1 L700.6 187.9 L692.8 193.7 L696.7 197.6 L704.5 195.7 L708.4 203.5 L706.5 211.3 L710.4 217.2 L714.3 225.0 L704.5 230.8 L700.6 235.7 L708.4 234.7 L716.2 232.8 L716.2 240.6 L710.4 245.5 L715.2 245.9 L721.1 251.7 L726.9 257.6 L730.8 261.5" fill="none" stroke="url(#sP)" stroke-width="50" stroke-linejoin="round"/>
<path d="M793.7 165.2 L802.5 167.1 L800.5 174.9 L803.5 182.7 L802.5 190.5 L807.4 198.3 L810.3 207.1 L818.1 208.1 L827.9 200.3 L827.9 205.2 L820.1 212.0 L812.3 215.9 L802.5 219.8 L801.5 222.8 L810.3 221.8 L820.1 220.8 L818.1 225.7 L812.3 229.6" fill="none" stroke="url(#sP)" stroke-width="30" stroke-linejoin="round"/>
<path d="M649.5 4.0 L649.8 10.7 L654.6 17.6 L658.6 25.4 L655.6 32.2 L659.5 39.1 L669.3 43.9 L673.2 48.8 L669.3 52.7 L658.6 53.7 L655.6 57.6 L661.5 58.6 L671.2 57.6 L672.2 64.4 L669.3 72.3 L674.2 78.1 L680.0 82.0 L682.0 89.8 L684.9 97.6" fill="none" stroke="url(#sP)" stroke-width="50" stroke-linejoin="round"/>
<path d="M769.5 4.0 L768.9 10.7 L765.0 15.6 L764.0 21.5 L761.1 29.3 L758.1 35.2 L759.1 42.0 L764.0 46.9 L770.8 45.9 L771.8 49.8 L765.0 53.7 L762.1 58.6 L768.9 60.5 L776.7 56.6 L778.6 60.5 L772.8 66.4 L765.0 70.3 L758.1 73.2 L759.1 76.2 L766.9 77.1 L770.8 84.0 L774.7 91.8 L779.6 97.6 L776.7 105.5 L779.6 112.3 L782.6 119.1 L792.3 121.1" fill="none" stroke="url(#sP)" stroke-width="48" stroke-linejoin="round"/>
<path d="M741.6 454.2 L741.6 464.0 L742.6 475.7 L744.5 489.4 L746.5 501.1 L748.8 515.6 L751.7 533.2 L881.6 544.9 L877.7 541.0 L884.5 537.1 L885.5 531.2 L879.7 529.3 L875.8 523.4 L878.7 515.6 L876.7 507.8 L881.6 500.0" fill="none" stroke="url(#sP)" stroke-width="38" stroke-linejoin="round"/>
<path d="M753.7 550.8 L755.7 564.4 L760.5 576.2 L766.4 584.0 L772.3 582.0 L778.1 578.1 L784.0 580.1 L789.8 585.9 L797.6 585.9 L809.4 582.0 L821.1 581.0 L828.9 578.1 L840.6 576.2 L852.3 570.3 L864.0 562.5 L875.8 556.6 L885.5 549.8" fill="none" stroke="url(#sP)" stroke-width="66" stroke-linejoin="round"/>
<path d="M842.5 405.9 L850.3 409.8 L858.1 407.8 L865.9 413.7 L875.7 414.6 L883.5 412.7 L882.5 417.6 L875.7 422.5 L865.9 425.4 L858.1 423.4 L857.1 429.3 L864.0 433.2 L873.7 437.1 L881.5 442.0 L886.4 437.1 L893.3 434.2 L899.1 436.1 L903.0 442.0 L904.0 448.8 L908.9 448.8 L916.7 445.9 L918.6 439.1 L928.4 439.1 L940.1 437.1 L942.1 451.7 L934.3 453.7 L930.4 458.6 L932.3 464.4 L924.5 467.4 L914.7 472.3 L906.9 475.2 L905.0 478.1 L910.8 477.1 L916.7 475.2 L922.6 477.1 L928.4 482.0 L928.4 485.9 L920.6 485.9 L914.7 487.9 L906.9 490.8 L895.2 488.9 L885.5 489.8 L883.5 497.6" fill="none" stroke="url(#sP)" stroke-width="72" stroke-linejoin="round"/>
<path d="M649.5 4.0 L649.8 10.7 L654.6 17.6 L658.6 25.4 L655.6 32.2 L659.5 39.1 L669.3 43.9 L673.2 48.8 L669.3 52.7 L658.6 53.7 L655.6 57.6 L661.5 58.6 L671.2 57.6 L672.2 64.4 L669.3 72.3 L674.2 78.1 L680.0 82.0 L682.0 89.8 L684.9 97.6 L682.0 102.5 L674.2 100.6 L665.4 103.5 L655.6 108.4 L648.3 109.5 L633.5 108.2 L624.3 105.0 L616.9 110.5 L604.0 121.7 L591.5 133.2 L594.5 138.0 L605.8 130.0 L618.7 119.8 L626.0 114.3 L633.5 116.3 L648.3 117.2 L659.4 114.2 L670.5 109.8 L677.9 107.8 L683.4 110.0 L679.1 119.5 L678.1 125.4 L685.0 123.4 L688.9 129.3 L687.9 137.1 L692.8 144.9 L696.7 152.7 L694.7 158.6 L685.0 162.5 L675.2 165.4 L665.5 168.3 L657.6 166.4 L651.8 167.4 L655.7 171.3 L663.5 174.2 L673.3 172.3 L685.0 169.3 L692.8 171.3 L686.9 178.1 L679.1 183.0 L685.0 184.0 L696.7 178.1 L704.5 180.1 L700.6 187.9 L692.8 193.7 L689.9 199.6 L696.7 197.6 L704.5 195.7 L708.4 203.5 L706.5 211.3 L710.4 217.2 L714.3 225.0 L704.5 230.8 L700.6 235.7 L708.4 234.7 L716.2 232.8 L716.2 240.6 L710.4 245.5 L715.2 245.9 L721.1 251.7 L726.9 257.6 L730.8 261.5 L726.9 269.3 L728.9 275.2 L722.1 278.1 L720.1 282.0 L726.9 283.9 L732.8 287.8 L728.9 296.6 L726.9 306.4 L725.0 312.3 L719.1 316.2 L713.3 315.2 L708.4 312.3 L705.5 308.3 L699.6 305.4 L693.7 304.4 L685.9 307.4 L682.0 314.2 L678.1 321.0 L680.1 324.9 L685.9 318.1 L693.7 312.3 L697.6 313.2 L701.5 318.1 L706.4 325.9 L708.4 331.8 L717.2 328.9 L726.9 327.9 L734.7 331.8 L736.7 335.7 L730.8 339.6 L723.0 343.5 L722.1 346.4 L728.9 347.4 L736.7 349.4 L739.6 353.3 L734.7 359.1 L732.8 365.0 L736.7 366.9 L743.5 365.0 L745.5 369.9 L738.6 374.7 L734.7 380.6 L734.7 385.9 L732.8 391.7 L736.7 395.6 L742.6 397.6 L745.5 399.5 L740.6 405.4 L736.7 411.2 L732.8 412.2 L725.0 410.3 L717.2 412.2 L713.3 415.2 L705.5 416.1 L699.6 411.2 L691.8 407.3 L682.0 408.3 L670.3 409.3 L658.6 409.3 L648.8 412.2 L652.7 414.2 L664.4 413.2 L678.1 414.2 L687.9 416.1 L695.7 419.1 L700.6 423.9 L699.6 428.8 L693.7 431.7 L684.0 433.7 L674.2 435.7 L668.3 438.6 L667.4 441.5 L674.2 442.5 L684.0 439.6 L695.7 437.6 L703.5 434.7 L709.4 430.8 L715.2 427.8 L725.0 428.8 L736.7 429.8 L744.5 430.8 L751.3 433.7 L750.4 438.6 L745.5 442.5 L742.6 446.4 L741.6 454.2 L741.6 464.0 L742.6 475.7 L744.5 489.4 L746.5 501.1 L748.8 515.6 L751.7 533.2 L753.7 550.8 L755.7 564.4 L760.5 576.2 L766.4 584.0 L772.3 582.0 L778.1 578.1 L784.0 580.1 L789.8 585.9 L797.6 585.9 L809.4 582.0 L821.1 581.0 L828.9 578.1 L840.6 576.2 L852.3 570.3 L864.0 562.5 L875.8 556.6 L885.5 549.8 L881.6 544.9 L877.7 541.0 L884.5 537.1 L885.5 531.2 L879.7 529.3 L875.8 523.4 L878.7 515.6 L876.7 507.8 L881.6 500.0 L883.5 497.6 L885.5 489.8 L895.2 488.9 L906.9 490.8 L914.7 487.9 L920.6 485.9 L928.4 485.9 L928.4 482.0 L922.6 477.1 L916.7 475.2 L910.8 477.1 L905.0 478.1 L906.9 475.2 L914.7 472.3 L924.5 467.4 L932.3 464.4 L930.4 458.6 L934.3 453.7 L942.1 451.7 L951.8 447.8 L955.8 442.0 L961.6 441.0 L967.5 442.0 L968.4 436.1 L965.5 429.3 L969.4 422.5 L977.2 419.5 L986.0 414.6 L987.0 410.7 L983.1 411.7 L973.3 416.6 L965.5 413.7 L967.5 407.8 L971.4 404.7 L975.3 396.9 L981.1 391.1 L985.0 383.3 L987.0 375.5 L992.9 371.5 L1000.7 367.6 L1000.7 363.7 L994.8 364.7 L987.0 367.6 L979.2 371.5 L977.2 379.4 L973.3 387.2 L967.5 391.1 L963.6 396.9 L955.8 404.7 L949.9 402.8 L951.8 403.9 L950.9 409.8 L949.9 419.5 L951.8 429.3 L949.9 436.1 L940.1 437.1 L928.4 439.1 L918.6 439.1 L916.7 445.9 L908.9 448.8 L904.0 448.8 L903.0 442.0 L899.1 436.1 L893.3 434.2 L886.4 437.1 L881.5 442.0 L873.7 437.1 L864.0 433.2 L857.1 429.3 L858.1 423.4 L865.9 425.4 L875.7 422.5 L882.5 417.6 L883.5 412.7 L875.7 414.6 L865.9 413.7 L858.1 407.8 L850.3 409.8 L842.5 405.9 L846.4 402.8 L854.2 398.9 L862.0 395.0 L865.9 389.1 L862.0 387.2 L857.1 383.3 L858.1 377.4 L856.2 371.5 L852.3 376.4 L845.4 379.4 L847.4 373.5 L852.3 363.7 L855.2 354.9 L853.2 351.0 L848.3 355.9 L844.4 367.6 L840.5 379.4 L836.6 385.2 L830.8 377.4 L826.9 369.6 L828.8 361.8 L830.8 355.9 L824.9 354.0 L819.1 350.1 L823.0 342.3 L822.0 332.5 L824.9 324.7 L826.9 318.8 L819.1 315.9 L817.1 309.1 L819.1 303.2 L826.9 300.3 L834.7 296.4 L832.7 292.5 L821.0 294.4 L811.2 295.4 L809.3 291.5 L815.2 286.6 L824.9 283.7 L828.8 278.8 L823.0 275.9 L813.2 277.8 L818.1 272.6 L814.2 266.7 L816.2 262.8 L824.0 257.9 L822.0 255.0 L810.3 256.0 L808.3 253.0 L815.2 247.2 L812.3 241.3 L815.2 235.5 L812.3 229.6 L818.1 225.7 L820.1 220.8 L810.3 221.8 L801.5 222.8 L802.5 219.8 L812.3 215.9 L820.1 212.0 L827.9 205.2 L837.6 199.3 L849.4 197.4 L857.2 194.4 L864.0 187.6 L863.0 183.7 L857.2 185.7 L849.4 191.5 L837.6 194.4 L827.9 200.3 L818.1 208.1 L810.3 207.1 L807.4 198.3 L802.5 190.5 L803.5 182.7 L800.5 174.9 L802.5 167.1 L793.7 165.2 L790.8 157.3 L784.9 151.5 L785.9 145.6 L783.0 137.8 L786.5 136.7 L796.2 132.8 L806.0 130.8 L815.8 126.9 L825.5 122.1 L833.3 119.1 L841.1 113.3 L847.0 106.4 L845.0 103.5 L839.2 108.4 L831.4 114.2 L821.6 117.2 L811.8 122.1 L802.1 125.0 L792.3 121.1 L782.6 119.1 L779.6 112.3 L776.7 105.5 L779.6 97.6 L774.7 91.8 L770.8 84.0 L766.9 77.1 L759.1 76.2 L758.1 73.2 L765.0 70.3 L772.8 66.4 L778.6 60.5 L776.7 56.6 L768.9 60.5 L762.1 58.6 L765.0 53.7 L771.8 49.8 L770.8 45.9 L764.0 46.9 L759.1 42.0 L758.1 35.2 L761.1 29.3 L764.0 21.5 L765.0 15.6 L768.9 10.7 L769.5 4.0" fill="none" stroke="url(#sR)" stroke-width="11" stroke-linejoin="round"/>
</g>
<g filter="url(#rough)">
<path d="M649.5 4.0 L649.8 10.7 L654.6 17.6 L658.6 25.4 L655.6 32.2 L659.5 39.1 L669.3 43.9 L673.2 48.8 L669.3 52.7 L658.6 53.7 L655.6 57.6 L661.5 58.6 L671.2 57.6 L672.2 64.4 L669.3 72.3 L674.2 78.1 L680.0 82.0 L682.0 89.8 L684.9 97.6 L682.0 102.5 L674.2 100.6 L665.4 103.5 L655.6 108.4 L648.3 109.5 L633.5 108.2 L624.3 105.0 L616.9 110.5 L604.0 121.7 L591.5 133.2 L594.5 138.0 L605.8 130.0 L618.7 119.8 L626.0 114.3 L633.5 116.3 L648.3 117.2 L659.4 114.2 L670.5 109.8 L677.9 107.8 L683.4 110.0 L679.1 119.5 L678.1 125.4 L685.0 123.4 L688.9 129.3 L687.9 137.1 L692.8 144.9 L696.7 152.7 L694.7 158.6 L685.0 162.5 L675.2 165.4 L665.5 168.3 L657.6 166.4 L651.8 167.4 L655.7 171.3 L663.5 174.2 L673.3 172.3 L685.0 169.3 L692.8 171.3 L686.9 178.1 L679.1 183.0 L685.0 184.0 L696.7 178.1 L704.5 180.1 L700.6 187.9 L692.8 193.7 L689.9 199.6 L696.7 197.6 L704.5 195.7 L708.4 203.5 L706.5 211.3 L710.4 217.2 L714.3 225.0 L704.5 230.8 L700.6 235.7 L708.4 234.7 L716.2 232.8 L716.2 240.6 L710.4 245.5 L715.2 245.9 L721.1 251.7 L726.9 257.6 L730.8 261.5 L726.9 269.3 L728.9 275.2 L722.1 278.1 L720.1 282.0 L726.9 283.9 L732.8 287.8 L728.9 296.6 L726.9 306.4 L725.0 312.3 L719.1 316.2 L713.3 315.2 L708.4 312.3 L705.5 308.3 L699.6 305.4 L693.7 304.4 L685.9 307.4 L682.0 314.2 L678.1 321.0 L680.1 324.9 L685.9 318.1 L693.7 312.3 L697.6 313.2 L701.5 318.1 L706.4 325.9 L708.4 331.8 L717.2 328.9 L726.9 327.9 L734.7 331.8 L736.7 335.7 L730.8 339.6 L723.0 343.5 L722.1 346.4 L728.9 347.4 L736.7 349.4 L739.6 353.3 L734.7 359.1 L732.8 365.0 L736.7 366.9 L743.5 365.0 L745.5 369.9 L738.6 374.7 L734.7 380.6 L734.7 385.9 L732.8 391.7 L736.7 395.6 L742.6 397.6 L745.5 399.5 L740.6 405.4 L736.7 411.2 L732.8 412.2 L725.0 410.3 L717.2 412.2 L713.3 415.2 L705.5 416.1 L699.6 411.2 L691.8 407.3 L682.0 408.3 L670.3 409.3 L658.6 409.3 L648.8 412.2 L652.7 414.2 L664.4 413.2 L678.1 414.2 L687.9 416.1 L695.7 419.1 L700.6 423.9 L699.6 428.8 L693.7 431.7 L684.0 433.7 L674.2 435.7 L668.3 438.6 L667.4 441.5 L674.2 442.5 L684.0 439.6 L695.7 437.6 L703.5 434.7 L709.4 430.8 L715.2 427.8 L725.0 428.8 L736.7 429.8 L744.5 430.8 L751.3 433.7 L750.4 438.6 L745.5 442.5 L742.6 446.4 L741.6 454.2 L741.6 464.0 L742.6 475.7 L744.5 489.4 L746.5 501.1 L748.8 515.6 L751.7 533.2 L753.7 550.8 L755.7 564.4 L760.5 576.2 L766.4 584.0 L772.3 582.0 L778.1 578.1 L784.0 580.1 L789.8 585.9 L797.6 585.9 L809.4 582.0 L821.1 581.0 L828.9 578.1 L840.6 576.2 L852.3 570.3 L864.0 562.5 L875.8 556.6 L885.5 549.8 L881.6 544.9 L877.7 541.0 L884.5 537.1 L885.5 531.2 L879.7 529.3 L875.8 523.4 L878.7 515.6 L876.7 507.8 L881.6 500.0 L883.5 497.6 L885.5 489.8 L895.2 488.9 L906.9 490.8 L914.7 487.9 L920.6 485.9 L928.4 485.9 L928.4 482.0 L922.6 477.1 L916.7 475.2 L910.8 477.1 L905.0 478.1 L906.9 475.2 L914.7 472.3 L924.5 467.4 L932.3 464.4 L930.4 458.6 L934.3 453.7 L942.1 451.7 L951.8 447.8 L955.8 442.0 L961.6 441.0 L967.5 442.0 L968.4 436.1 L965.5 429.3 L969.4 422.5 L977.2 419.5 L986.0 414.6 L987.0 410.7 L983.1 411.7 L973.3 416.6 L965.5 413.7 L967.5 407.8 L971.4 404.7 L975.3 396.9 L981.1 391.1 L985.0 383.3 L987.0 375.5 L992.9 371.5 L1000.7 367.6 L1000.7 363.7 L994.8 364.7 L987.0 367.6 L979.2 371.5 L977.2 379.4 L973.3 387.2 L967.5 391.1 L963.6 396.9 L955.8 404.7 L949.9 402.8 L951.8 403.9 L950.9 409.8 L949.9 419.5 L951.8 429.3 L949.9 436.1 L940.1 437.1 L928.4 439.1 L918.6 439.1 L916.7 445.9 L908.9 448.8 L904.0 448.8 L903.0 442.0 L899.1 436.1 L893.3 434.2 L886.4 437.1 L881.5 442.0 L873.7 437.1 L864.0 433.2 L857.1 429.3 L858.1 423.4 L865.9 425.4 L875.7 422.5 L882.5 417.6 L883.5 412.7 L875.7 414.6 L865.9 413.7 L858.1 407.8 L850.3 409.8 L842.5 405.9 L846.4 402.8 L854.2 398.9 L862.0 395.0 L865.9 389.1 L862.0 387.2 L857.1 383.3 L858.1 377.4 L856.2 371.5 L852.3 376.4 L845.4 379.4 L847.4 373.5 L852.3 363.7 L855.2 354.9 L853.2 351.0 L848.3 355.9 L844.4 367.6 L840.5 379.4 L836.6 385.2 L830.8 377.4 L826.9 369.6 L828.8 361.8 L830.8 355.9 L824.9 354.0 L819.1 350.1 L823.0 342.3 L822.0 332.5 L824.9 324.7 L826.9 318.8 L819.1 315.9 L817.1 309.1 L819.1 303.2 L826.9 300.3 L834.7 296.4 L832.7 292.5 L821.0 294.4 L811.2 295.4 L809.3 291.5 L815.2 286.6 L824.9 283.7 L828.8 278.8 L823.0 275.9 L813.2 277.8 L818.1 272.6 L814.2 266.7 L816.2 262.8 L824.0 257.9 L822.0 255.0 L810.3 256.0 L808.3 253.0 L815.2 247.2 L812.3 241.3 L815.2 235.5 L812.3 229.6 L818.1 225.7 L820.1 220.8 L810.3 221.8 L801.5 222.8 L802.5 219.8 L812.3 215.9 L820.1 212.0 L827.9 205.2 L837.6 199.3 L849.4 197.4 L857.2 194.4 L864.0 187.6 L863.0 183.7 L857.2 185.7 L849.4 191.5 L837.6 194.4 L827.9 200.3 L818.1 208.1 L810.3 207.1 L807.4 198.3 L802.5 190.5 L803.5 182.7 L800.5 174.9 L802.5 167.1 L793.7 165.2 L790.8 157.3 L784.9 151.5 L785.9 145.6 L783.0 137.8 L786.5 136.7 L796.2 132.8 L806.0 130.8 L815.8 126.9 L825.5 122.1 L833.3 119.1 L841.1 113.3 L847.0 106.4 L845.0 103.5 L839.2 108.4 L831.4 114.2 L821.6 117.2 L811.8 122.1 L802.1 125.0 L792.3 121.1 L782.6 119.1 L779.6 112.3 L776.7 105.5 L779.6 97.6 L774.7 91.8 L770.8 84.0 L766.9 77.1 L759.1 76.2 L758.1 73.2 L765.0 70.3 L772.8 66.4 L778.6 60.5 L776.7 56.6 L768.9 60.5 L762.1 58.6 L765.0 53.7 L771.8 49.8 L770.8 45.9 L764.0 46.9 L759.1 42.0 L758.1 35.2 L761.1 29.3 L764.0 21.5 L765.0 15.6 L768.9 10.7 L769.5 4.0" fill="none" stroke="#066d4d" stroke-width="2.5" stroke-linejoin="round"/>
</g>
</g>
<rect x="648" y="0" width="111.5" height="0.9" fill="#d0d6ea"/>
<path d="M101 1.3 L587 4.7 L967 7.3" fill="none" stroke="#066d4d" stroke-width="2.8" stroke-linecap="butt" stroke-linejoin="round" />
<path d="M967 7.3 L985 0" fill="none" stroke="#066d4d" stroke-width="2.8" stroke-linecap="butt" stroke-linejoin="round" />
<path d="M967.3 7 L967.3 312.7" fill="none" stroke="#066d4d" stroke-width="2.8" stroke-linecap="butt" stroke-linejoin="round" />
<path d="M1053 0 L1053.3 345 " fill="none" stroke="#066d4d" stroke-width="2.8" stroke-linecap="butt" stroke-linejoin="round" />
<path d="M1053.5 330.0 C1053.5 333.2 1053.8 342.7 1053.3 349.0 C1052.8 355.3 1051.9 361.4 1050.4 367.9 C1049.0 374.4 1046.8 381.2 1044.6 388.2 C1042.4 395.2 1039.6 402.7 1037.4 410.0 C1035.2 417.3 1034.3 424.3 1031.6 431.8 C1028.9 439.3 1025.5 446.6 1021.4 455.0 C1017.3 463.4 1012.9 472.1 1006.9 482.5 C1000.9 492.9 995.2 503.0 985.1 517.4 C975.0 531.8 964.2 545.6 946.0 569.0 C927.8 592.4 898.2 631.2 876.0 657.5 C853.8 683.8 823.4 715.4 812.9 727.0" fill="none" stroke="#066d4d" stroke-width="2.8" stroke-linecap="butt" stroke-linejoin="round" />
<path d="M100.0 28.7 L94.4 6.2" stroke="#066d4d" stroke-width="2.0" fill="none"/>
<path d="M91.6 -5.0 L98.7 5.1 L90.1 7.2 Z" fill="#066d4d"/>
<path d="M101.5 0.0 C102.4 3.3 104.9 13.2 106.8 19.8 C108.7 26.4 110.5 33.0 112.8 39.6 C115.1 46.2 117.7 53.1 120.7 59.4 C123.7 65.7 127.0 71.9 130.6 77.2 C134.2 82.5 137.9 86.4 142.5 91.0 C147.1 95.6 153.4 100.6 158.3 104.9 C163.2 109.2 168.1 112.8 172.0 116.7 C175.9 120.7 178.3 123.0 182.0 128.6 C185.7 134.2 190.6 143.1 193.9 150.0 C197.2 156.9 200.7 166.7 202.0 170.0 L293 526" fill="none" stroke="#066d4d" stroke-width="2.8" stroke-linecap="butt" stroke-linejoin="round" />
<path d="M202 171 L335 156.5" fill="none" stroke="#066d4d" stroke-width="2.8" stroke-linecap="butt" stroke-linejoin="round" />
<path d="M335.0 156.5 C336.7 156.8 340.5 156.1 345.0 158.0 C349.5 159.9 356.2 165.2 362.0 168.0 C367.8 170.8 370.3 173.5 380.0 175.0 C389.7 176.5 393.3 176.8 420.0 177.0 C446.7 177.2 509.5 177.4 540.0 176.5 C570.5 175.6 588.3 173.6 603.0 171.5 C617.7 169.4 622.5 167.4 628.0 164.0 C633.5 160.6 633.5 155.7 636.0 151.0 C638.5 146.3 640.3 139.5 643.0 136.0 C645.7 132.5 649.4 131.2 652.0 130.0 C654.6 128.8 657.4 128.8 658.5 128.6" fill="none" stroke="#066d4d" stroke-width="2.8" stroke-linecap="butt" stroke-linejoin="round" />
<path d="M272.5 441 L390 441 L400 448 L645 449" fill="none" stroke="#066d4d" stroke-width="2.8" stroke-linecap="butt" stroke-linejoin="round" />
<path d="M587.0 0.0 C587.6 2.6 585.0 2.0 590.0 13.0 C595.0 24.0 603.2 38.2 612.0 55.0 C620.8 71.8 629.1 87.4 634.0 97.0 C638.9 106.6 636.0 98.4 636.3 103.0 C636.6 107.6 637.9 102.6 635.3 120.0 C632.7 137.4 633.0 138.2 623.5 190.0 C614.0 241.8 597.4 328.4 588.0 379.0 C578.6 429.6 580.1 421.6 576.5 443.0 C572.9 464.4 571.6 469.6 570.0 486.0 C568.4 502.4 567.6 508.4 568.5 525.0 C569.4 541.6 568.2 546.0 574.5 569.0 C580.8 592.0 585.3 608.6 600.0 640.0 C614.7 671.4 638.4 708.8 648.0 726.0" fill="none" stroke="#066d4d" stroke-width="2.8" stroke-linecap="butt" stroke-linejoin="round" />
<path d="M600 32.5 L627.4 24.5" fill="none" stroke="#066d4d" stroke-width="2.8" stroke-linecap="butt" stroke-linejoin="round" stroke-linecap="round"/>
<path d="M592.4 0 L592.8 5" fill="none" stroke="#066d4d" stroke-width="2.8" stroke-linecap="butt" stroke-linejoin="round" />
<path d="M773.4 6.7 C778.1 18.2 782.3 27.3 797.0 64.0 C811.7 100.7 829.3 147.2 847.0 190.0 C864.7 232.8 869.1 240.0 885.5 278.0 C901.9 316.0 916.8 352.0 929.0 380.0 C941.2 408.0 940.0 402.7 946.5 417.8 C953.0 432.9 957.9 443.1 961.7 455.7 C965.5 468.3 965.5 470.8 965.5 480.9 C965.5 491.0 964.5 497.4 961.7 506.0 C958.9 514.6 955.9 517.2 951.6 523.8 C947.3 530.4 947.3 530.9 940.0 539.0 C932.7 547.1 924.0 556.3 915.0 564.5 C906.0 572.7 902.8 575.3 895.0 580.0 C887.2 584.7 882.6 584.9 876.0 588.0 C869.4 591.1 866.2 592.2 862.0 595.7 C857.8 599.2 857.0 601.2 855.0 605.5 C853.0 609.8 852.2 611.5 852.0 617.0 C851.8 622.5 852.0 626.8 854.0 633.0 C856.0 639.2 857.6 643.1 862.0 648.0 C866.4 652.9 855.1 641.7 876.0 657.5 C896.9 673.3 948.6 713.1 966.7 727.0" fill="none" stroke="#066d4d" stroke-width="2.8" stroke-linecap="butt" stroke-linejoin="round" />
<path d="M897 312 L1191.5 319.5" fill="none" stroke="#066d4d" stroke-width="2.8" stroke-linecap="butt" stroke-linejoin="round" />
<path d="M1192.8 417.0 C1174.2 416.6 1137.8 415.6 1100.0 415.0 C1062.2 414.4 1024.7 413.5 1004.0 413.8 C983.3 414.1 999.3 414.4 996.7 416.5 C994.1 418.6 993.0 420.9 991.0 424.5 C989.0 428.1 988.6 430.6 986.6 434.7 C984.6 438.8 983.7 441.2 980.8 444.8 C977.9 448.4 975.8 450.5 972.0 452.8 C968.2 455.1 963.9 455.7 961.9 456.4" fill="none" stroke="#066d4d" stroke-width="2.8" stroke-linecap="butt" stroke-linejoin="round" />
<path d="M953 523.5 L1192.8 522.8" fill="none" stroke="#066d4d" stroke-width="2.8" stroke-linecap="butt" stroke-linejoin="round" />
<path d="M645.0 447.4 C646.2 448.3 648.5 448.7 650.8 452.0 C653.1 455.3 653.9 457.7 656.6 464.0 C659.3 470.3 661.4 476.7 664.5 483.5 C667.6 490.3 668.7 487.2 672.0 498.0 C675.3 508.8 677.0 525.8 680.8 537.4 C684.6 549.0 687.2 548.9 691.0 556.0 C694.8 563.1 695.9 566.6 700.0 573.0 C704.1 579.4 705.5 583.1 711.7 588.0 C717.9 592.9 721.6 594.6 731.0 597.7 C740.4 600.8 745.3 601.6 758.6 603.5 C771.9 605.4 778.2 606.1 797.7 607.0 C817.2 607.9 831.5 607.6 856.0 608.0 C880.5 608.4 896.2 608.6 920.0 609.0 C943.8 609.4 964.0 610.0 975.0 610.2 L1192.8 585.7" fill="none" stroke="#066d4d" stroke-width="2.8" stroke-linecap="butt" stroke-linejoin="round" />
<path d="M683.8 327.5 C681.8 328.0 677.7 328.3 673.7 330.0 C669.7 331.7 666.6 332.8 664.0 336.0 C661.4 339.2 661.1 342.0 660.5 346.0 C659.9 350.0 660.7 352.0 661.0 356.0 C661.3 360.0 662.5 361.2 662.0 366.0 C661.5 370.8 661.6 375.2 658.6 380.0 C655.6 384.8 650.3 385.7 647.0 390.0 C643.7 394.3 643.2 395.7 642.0 401.5 C640.8 407.3 641.0 412.0 641.0 419.0 C641.0 426.0 641.2 431.0 642.0 436.6 C642.8 442.2 644.4 444.9 645.0 447.0" fill="none" stroke="#066d4d" stroke-width="2.8" stroke-linecap="butt" stroke-linejoin="round" />
<path d="M699.0 342.6 C695.8 343.1 688.6 343.7 683.0 345.0 C677.4 346.3 675.2 346.6 671.0 349.0 C666.8 351.4 663.8 355.4 662.0 357.0" fill="none" stroke="#066d4d" stroke-width="2.8" stroke-linecap="butt" stroke-linejoin="round" />
<path d="M643.0 441.0 C644.4 442.2 645.7 444.9 650.0 447.0 C654.3 449.1 658.9 450.8 664.5 451.5 C670.1 452.2 672.1 451.5 678.0 450.5 C683.9 449.5 687.5 448.4 693.8 446.4 C700.1 444.4 705.2 442.1 709.4 440.5 C713.6 438.9 713.9 439.0 715.0 438.6" fill="none" stroke="#066d4d" stroke-width="2.8" stroke-linecap="butt" stroke-linejoin="round" />
<path d="M645.0 431.8 C647.7 432.0 652.8 433.1 658.6 432.7 C664.4 432.3 667.8 431.1 674.0 429.8 C680.2 428.5 686.6 426.8 689.8 426.0" fill="none" stroke="#066d4d" stroke-width="2.8" stroke-linecap="butt" stroke-linejoin="round" />
<path d="M559.0 253.5 C575.2 253.6 615.8 253.8 640.0 254.0 C664.2 254.2 670.7 253.9 680.0 254.3 C689.3 254.7 684.3 254.9 686.3 256.0 C688.3 257.1 688.7 257.6 690.0 259.7 C691.3 261.8 692.0 263.5 693.0 266.4 C694.0 269.3 693.8 270.6 694.9 274.0 C696.0 277.4 697.0 279.7 698.7 283.5 C700.4 287.3 701.3 289.8 703.4 293.0 C705.5 296.2 706.7 297.7 709.0 299.6 C711.3 301.5 712.5 302.1 714.8 302.5 C717.1 302.9 719.4 301.7 720.5 301.5" fill="none" stroke="#066d4d" stroke-width="2.8" stroke-linecap="butt" stroke-linejoin="round" />
<path d="M694.9 272.6 C696.0 272.5 698.7 272.9 700.6 272.0 C702.5 271.1 702.5 269.5 704.4 268.3 C706.3 267.1 707.9 266.2 710.0 266.0 C712.1 265.8 713.6 266.4 714.8 267.3 C716.0 268.2 716.4 269.6 715.8 270.7 C715.2 271.8 713.9 272.6 712.0 273.0 C710.1 273.4 708.5 272.8 706.3 272.6 C704.1 272.4 702.1 272.1 701.0 272.0" fill="none" stroke="#066d4d" stroke-width="2.2" stroke-linecap="butt" stroke-linejoin="round" />
<path d="M700.0 286.0 C701.4 286.9 704.2 288.9 707.0 290.5 C709.8 292.1 711.3 291.8 714.0 294.0 C716.7 296.2 719.2 300.0 720.5 301.5" fill="none" stroke="#066d4d" stroke-width="2.2" stroke-linecap="butt" stroke-linejoin="round" />
<path d="M687.3 283.5 C686.5 284.1 685.2 285.2 683.5 286.3 C681.8 287.4 681.0 288.3 678.7 289.2 C676.4 290.1 674.3 289.9 672.0 291.0 C669.7 292.1 668.6 293.2 667.3 294.9 C666.0 296.6 665.8 298.7 665.4 299.6" fill="none" stroke="#066d4d" stroke-width="2.2" stroke-linecap="butt" stroke-linejoin="round" />
<path d="M687.3 283.5 C686.6 284.8 685.5 287.3 684.0 290.0 C682.5 292.7 681.6 294.8 680.0 297.0 C678.4 299.2 676.8 300.2 676.0 301.0" fill="none" stroke="#066d4d" stroke-width="2.2" stroke-linecap="butt" stroke-linejoin="round" />
<path d="M916 421.6 L939 405" fill="none" stroke="#066d4d" stroke-width="2.8" stroke-linecap="butt" stroke-linejoin="round" />
<path d="M675.7 460.5 L690.2 524.3" fill="none" stroke="#066d4d" stroke-width="2.8" stroke-linecap="butt" stroke-linejoin="round" />
<path d="M675.7 460.5 C680.7 459.6 699.6 456.0 705.5 455.4 C711.4 454.8 709.8 455.9 711.3 456.9 C712.8 457.9 713.7 459.4 714.2 461.2 C714.7 463.0 714.8 466.0 714.2 467.7 C713.6 469.4 716.1 469.6 710.6 471.4 C705.1 473.2 686.4 477.4 681.5 478.6" fill="none" stroke="#066d4d" stroke-width="2.8" stroke-linecap="butt" stroke-linejoin="round" />
<path d="M710.6 471.4 C711.4 471.6 714.3 471.8 715.6 472.8 C716.9 473.8 718.1 475.5 718.5 477.2 C718.9 478.9 718.5 481.4 717.8 483.0 C717.1 484.6 719.6 484.9 714.2 486.6 C708.8 488.3 690.0 492.0 685.2 493.1" fill="none" stroke="#066d4d" stroke-width="2.8" stroke-linecap="butt" stroke-linejoin="round" />
<path d="M714.2 486.6 C715.2 486.8 718.7 486.9 720.0 488.0 C721.3 489.1 722.0 491.4 722.2 493.1 C722.4 494.8 722.1 496.8 721.4 498.2 C720.7 499.6 723.4 500.1 717.8 501.8 C712.2 503.5 693.0 507.3 688.0 508.4" fill="none" stroke="#066d4d" stroke-width="2.8" stroke-linecap="butt" stroke-linejoin="round" />
<path d="M717.8 501.8 C718.6 502.2 721.7 502.8 722.9 504.0 C724.1 505.2 724.9 507.4 725.1 509.1 C725.3 510.8 725.0 512.9 724.3 514.2 C723.6 515.5 726.4 515.4 720.7 517.1 C715.0 518.8 695.3 523.1 690.2 524.3" fill="none" stroke="#066d4d" stroke-width="2.8" stroke-linecap="butt" stroke-linejoin="round" />
<path d="M720.7 517.1 C721.6 517.5 724.6 518.1 725.8 519.3 C727.0 520.5 727.9 522.5 728.0 524.3 C728.1 526.1 727.4 528.8 726.5 530.1 C725.6 531.4 727.1 531.4 722.9 532.3 C718.7 533.1 705.9 535.1 701.1 535.2 C696.3 535.3 695.6 534.3 693.9 533.0 C692.2 531.7 691.6 528.7 691.0 527.2 C690.4 525.8 690.3 524.8 690.2 524.3" fill="none" stroke="#066d4d" stroke-width="2.8" stroke-linecap="butt" stroke-linejoin="round" />
<path d="M580 10 L583 15 L625 93" fill="none" stroke="#066d4d" stroke-width="3.7" stroke-dasharray="16.5 3.6 3.7 3.6" stroke-linejoin="miter"/>
<path d="M550.3 109 L550.3 81.3 L574.4 81.3 L574.4 99.7 L616 99.7 L616 89.6" fill="none" stroke="#066d4d" stroke-width="3.7" stroke-dasharray="16.5 3.6 3.7 3.6" stroke-linejoin="miter"/>
<path d="M552 109 L567.9 109 L567.9 122 L556.8 122 L556.8 151.5 L590 151.5 L623.3 139.5 L618.7 171 L616 192" fill="none" stroke="#066d4d" stroke-width="3.7" stroke-dasharray="16.5 3.6 3.7 3.6" stroke-linejoin="miter"/>
<path d="M616 193 L639.3 193 L645 209.5 L658.3 209.5 L658.3 257.5 L672.6 257.5 L672.6 278 L636.2 300.6 L636.2 319 L626.2 320.5 L626.2 339.3 L636.2 342 L648.2 357 L648.2 380 L637.6 380 L637.6 391.5 L608 399.5 L608 418 L634.6 418 L634.6 488.5 L658.5 488.5 L691 568" fill="none" stroke="#066d4d" stroke-width="3.7" stroke-dasharray="16.5 3.6 3.7 3.6" stroke-linejoin="miter"/>
<path d="M691 569 L641 569 L641 614 L902 613.9 L940 562.5 L973.5 517.4 L993.8 482.5 L1011.2 452 L1022.8 428.9 L1033 398.3 L1040.3 375 L1044.6 362" fill="none" stroke="#066d4d" stroke-width="3.7" stroke-dasharray="16.5 3.6 3.7 3.6" stroke-linejoin="miter"/>
<path d="M790.3 0 L786.5 27 L806 39.5 L806.7 50 L795.3 47 L814 88" fill="none" stroke="#066d4d" stroke-width="3.7" stroke-dasharray="16.5 3.6 3.7 3.6" stroke-linejoin="miter"/>
<path d="M814 89 L927.6 89 L927.6 111 L867 111 L867 132.4 L830.5 132.4" fill="none" stroke="#066d4d" stroke-width="3.7" stroke-dasharray="16.5 3.6 3.7 3.6" stroke-linejoin="miter"/>
<path d="M832 134 L848 171.5 L887 171.5 L864.6 199 L913.8 319" fill="none" stroke="#066d4d" stroke-width="3.7" stroke-dasharray="16.5 3.6 3.7 3.6" stroke-linejoin="miter"/>
<path d="M913.8 321.8 L967.3 321.8 L967.3 344 L1004.7 344 L1004.7 321.8 L1028.6 321.8 L1028.6 359 L1036 359" fill="none" stroke="#066d4d" stroke-width="3.7" stroke-dasharray="16.5 3.6 3.7 3.6" stroke-linejoin="miter"/>
<path d="M654.8 117.3 C656.7 117.9 664.6 119.2 666.1 121.1 C667.6 123.0 662.8 126.5 663.6 128.6 C664.5 130.7 668.7 131.6 671.2 133.7 C673.7 135.8 677.7 138.4 678.7 141.3 C679.8 144.2 679.6 149.0 677.5 151.3 C675.4 153.6 669.2 155.1 666.1 155.1 C663.0 155.1 660.3 153.6 658.6 151.3 C656.9 149.0 656.4 143.0 656.0 141.3" fill="none" stroke="#0f55a4" stroke-width="1.8" stroke-dasharray="3.6 3"/>
<path d="M640.9 169.0 C641.7 171.1 644.2 178.4 645.9 181.6 C647.6 184.8 650.1 186.8 651.0 187.9" fill="none" stroke="#0f55a4" stroke-width="1.8" stroke-dasharray="3.6 3"/>
<path d="M653.5 190.0 C656.4 192.1 666.4 197.6 671.0 202.6 C675.6 207.6 678.7 213.8 681.0 220.0 C683.3 226.2 684.3 232.4 685.0 240.0 C685.7 247.6 686.0 258.9 685.0 265.7 C684.0 272.5 681.9 276.6 678.7 280.8 C675.5 285.0 670.6 286.4 666.0 291.0 C661.4 295.6 655.0 303.5 651.0 308.5 C647.0 313.5 643.7 315.9 642.0 321.0 C640.3 326.1 639.9 333.7 641.0 338.8 C642.1 343.9 645.9 348.2 648.4 351.4 C650.9 354.5 654.7 356.6 656.0 357.7" fill="none" stroke="#0f55a4" stroke-width="1.8" stroke-dasharray="3.6 3"/>
<path d="M832.7 270.0 C834.0 271.0 838.0 273.3 840.5 275.9 C843.0 278.5 846.1 282.4 847.4 285.6 C848.7 288.9 848.5 291.8 848.3 295.4 C848.1 299.0 847.4 303.2 846.4 307.1 C845.4 311.0 843.8 315.6 842.5 318.8 C841.2 322.1 838.8 324.0 838.6 326.6 C838.4 329.2 839.9 332.1 841.5 334.4 C843.1 336.7 845.5 338.3 848.3 340.3 C851.1 342.3 854.8 344.2 858.1 346.2 C861.4 348.1 865.3 349.7 867.9 352.0 C870.5 354.3 872.9 356.6 873.7 359.8 C874.5 363.1 873.1 367.9 872.8 371.5 C872.5 375.1 871.3 378.5 871.8 381.3 C872.3 384.1 873.8 386.3 875.7 388.1 C877.7 389.9 881.2 390.6 883.5 392.1 C885.8 393.6 888.3 394.5 889.4 396.9 C890.5 399.3 890.6 403.2 890.3 406.7 C890.0 410.2 887.9 416.1 887.4 418.0" fill="none" stroke="#0f55a4" stroke-width="3.8" stroke-dasharray="7.5 3.7 3.6 3.7"/>
<path d="M837.6 276.5 C837.0 275.2 833.7 271.5 833.7 268.6 C833.7 265.7 837.3 262.1 837.6 258.9 C837.9 255.6 837.3 252.3 835.7 249.1 C834.1 245.8 829.5 243.0 827.9 239.4 C826.3 235.8 825.9 231.2 825.9 227.6 C825.9 224.0 825.9 220.5 827.9 217.9 C829.9 215.3 834.4 212.7 837.6 212.0 C840.9 211.3 844.5 212.4 847.4 214.0 C850.3 215.6 852.9 218.2 855.2 221.8 C857.5 225.4 858.8 230.6 861.1 235.5 C863.4 240.4 866.3 245.6 868.9 251.1 C871.5 256.6 874.8 264.1 876.7 268.6 C878.7 273.1 879.8 275.8 880.6 278.0 C881.4 280.2 880.7 279.1 881.5 281.7 C882.3 284.3 884.7 289.5 885.5 293.4 C886.3 297.3 886.4 302.3 886.4 305.2 C886.4 308.1 885.6 310.0 885.5 311.0" fill="none" stroke="#0f55a4" stroke-width="3.8" stroke-dasharray="7.5 3.7 3.6 3.7"/>
<path d="M885.5 310.0 C883.5 309.9 877.6 308.8 873.7 309.1 C869.8 309.4 865.6 310.4 862.0 312.0 C858.4 313.6 855.2 316.0 852.3 318.8 C849.4 321.6 845.7 327.0 844.4 328.6" fill="none" stroke="#0f55a4" stroke-width="3.8" stroke-dasharray="7.5 3.7 3.6 3.7"/>
<path d="M885.5 312.0 C884.8 313.5 882.5 317.7 881.5 320.8 C880.5 323.9 879.3 327.6 879.6 330.5 C879.9 333.4 881.2 336.2 883.5 338.3 C885.8 340.4 890.4 341.6 893.3 343.2 C896.2 344.8 898.8 345.7 901.1 348.1 C903.4 350.6 905.3 354.3 906.9 357.9 C908.5 361.5 909.8 365.7 910.8 369.6 C911.8 373.5 912.6 377.4 912.8 381.3 C913.0 385.2 912.8 388.8 911.8 393.0 C910.8 397.2 908.5 403.1 906.9 406.7 C905.3 410.3 903.7 413.0 902.1 414.5 C900.5 416.0 899.0 413.8 897.2 415.6 C895.4 417.4 893.1 422.6 891.3 425.4 C889.5 428.2 887.2 431.1 886.4 432.2" fill="none" stroke="#0f55a4" stroke-width="3.8" stroke-dasharray="7.5 3.7 3.6 3.7"/>
<path d="M887.4 418.0 C887.2 416.9 886.7 411.1 886.4 411.7 C886.1 412.3 886.0 418.1 885.5 421.5 C885.0 424.9 883.8 430.4 883.5 432.2" fill="none" stroke="#0f55a4" stroke-width="3.8" stroke-dasharray="7.5 3.7 3.6 3.7"/>
<path d="M938.0 351.9 C938.6 351.3 939.9 348.8 941.6 348.3 C943.3 347.8 945.9 348.6 948.1 349.0 C950.3 349.4 952.5 349.9 954.7 350.5 C956.9 351.1 959.0 352.0 961.2 352.6 C963.4 353.2 965.7 354.0 967.7 354.4 C969.8 354.8 971.6 354.7 973.5 354.8 C975.4 354.9 977.2 354.9 979.3 354.8 C981.4 354.7 983.7 354.2 985.9 354.1 C988.1 354.0 990.2 354.0 992.4 354.1 C994.6 354.2 997.2 354.1 998.9 354.8 C1000.6 355.5 1000.8 357.4 1002.5 358.4 C1004.2 359.4 1006.9 359.9 1009.1 360.6 C1011.3 361.3 1013.4 362.0 1015.6 362.8 C1017.8 363.6 1020.2 364.7 1022.1 365.7 C1024.0 366.7 1026.1 367.0 1027.2 368.6 C1028.3 370.2 1028.6 372.9 1028.7 375.1 C1028.8 377.3 1028.2 379.6 1027.9 381.7 C1027.7 383.8 1027.7 385.4 1027.2 387.5 C1026.7 389.6 1025.8 392.1 1025.0 394.0 C1024.2 395.9 1023.7 398.1 1022.1 399.1 C1020.5 400.1 1017.5 400.3 1015.6 399.8 C1013.7 399.3 1012.2 397.5 1010.5 396.2 C1008.8 394.9 1007.0 393.2 1005.4 391.8 C1003.8 390.4 1001.8 389.2 1001.1 387.5 C1000.4 385.8 1000.7 383.8 1001.1 381.7 C1001.5 379.6 1002.7 377.2 1003.3 375.1 C1003.9 373.0 1004.5 371.2 1004.7 369.3 C1004.9 367.4 1005.1 365.3 1004.7 363.5 C1004.3 361.7 1002.9 359.2 1002.5 358.4" fill="none" stroke="#0f55a4" stroke-width="2.3" stroke-dasharray="0.1 6.3" stroke-linecap="round"/>
<path d="M938.0 351.9 C938.1 353.0 938.3 356.2 938.7 358.4 C939.1 360.6 939.8 362.9 940.4 365.0 C941.0 367.1 941.6 368.9 942.3 370.8 C943.0 372.7 943.6 374.7 944.5 376.6 C945.4 378.5 946.3 380.5 947.4 382.4 C948.5 384.3 949.5 386.6 951.0 388.2 C952.5 389.8 954.4 391.2 956.1 391.8 C957.8 392.4 959.6 392.5 961.2 391.8 C962.8 391.1 964.4 389.2 965.5 387.5 C966.6 385.8 967.0 383.8 967.7 381.7 C968.4 379.6 969.2 377.2 969.9 375.1 C970.6 373.0 971.2 371.2 972.1 369.3 C973.0 367.4 973.7 365.1 975.0 363.5 C976.3 361.9 978.3 360.8 980.1 359.9 C981.9 359.0 983.9 358.9 985.9 358.4 C987.9 357.9 990.3 357.4 992.4 357.0 C994.5 356.6 997.2 356.2 998.2 356.0" fill="none" stroke="#0f55a4" stroke-width="2.3" stroke-dasharray="0.1 6.3" stroke-linecap="round"/>
<path d="M976.4 407.8 C977.4 407.6 980.1 406.8 982.2 406.3 C984.3 405.8 986.6 405.3 988.8 404.9 C991.0 404.5 993.1 404.3 995.3 404.1 C997.5 403.9 999.6 404.0 1001.8 403.9 C1004.0 403.8 1006.2 403.8 1008.3 403.4 C1010.3 402.9 1012.6 401.8 1014.1 401.2 C1015.6 400.6 1016.5 400.0 1017.0 399.8" fill="none" stroke="#0f55a4" stroke-width="2.3" stroke-dasharray="0.1 6.3" stroke-linecap="round"/>
<path d="M1006.2 418.0 C1005.4 418.7 1002.7 420.5 1001.1 422.3 C999.5 424.1 998.2 426.5 996.7 428.9 C995.2 431.3 993.7 434.1 992.4 436.8 C991.1 439.5 989.9 442.0 988.8 444.8 C987.7 447.6 986.9 450.6 985.9 453.5 C984.9 456.4 983.5 459.5 983.0 462.2 C982.5 464.9 983.4 467.1 983.0 469.5 C982.6 471.9 981.6 474.3 980.8 476.7 C979.9 479.1 979.1 481.6 977.9 484.0 C976.7 486.4 975.0 488.8 973.5 491.2 C972.0 493.6 970.5 496.1 969.2 498.5 C967.9 500.9 965.9 503.9 965.5 505.8 C965.1 507.7 965.9 509.4 967.0 510.1 C968.1 510.8 970.3 511.1 972.1 510.1 C973.9 509.1 976.2 506.4 977.9 504.3 C979.6 502.2 981.0 500.0 982.2 497.8 C983.4 495.6 984.1 493.5 985.1 491.2 C986.1 488.9 987.0 486.4 988.0 484.0 C989.0 481.6 989.7 479.1 990.9 476.7 C992.1 474.3 994.1 471.9 995.3 469.5 C996.5 467.1 997.2 464.6 998.2 462.2 C999.2 459.8 1000.1 457.6 1001.1 455.0 C1002.1 452.4 1003.0 449.0 1004.0 446.3 C1005.0 443.6 1006.0 441.4 1006.9 439.0 C1007.8 436.6 1008.4 434.0 1009.1 431.8 C1009.8 429.6 1010.7 427.8 1011.2 426.0 C1011.7 424.2 1012.8 422.2 1012.0 420.9 C1011.2 419.6 1007.2 418.5 1006.2 418.0" fill="none" stroke="#0f55a4" stroke-width="2.3" stroke-dasharray="0.1 6.3" stroke-linecap="round"/>
<ellipse cx="739.6" cy="436.7" rx="24.7" ry="10.2" fill="none" stroke="#e8121a" stroke-width="3.8" transform="rotate(3 739.6 436.7)"/>
<path d="M504.0 498.5 L711.1 447.4" stroke="#e8121a" stroke-width="4.2" fill="none"/>
<path d="M722.3 444.6 L712.5 452.8 L709.8 441.9 Z" fill="#e8121a"/>
<rect x="645.4" y="84.5" width="17.4" height="10.8" fill="#066d4d"/>
<rect x="703" y="564" width="21" height="13.6" fill="#066d4d"/>
<ellipse cx="944" cy="482" rx="15" ry="5.5" fill="#0f55a4"/>
<circle cx="721.6" cy="264.4" r="4.3" fill="#0f55a4"/>
<rect x="615.2" y="11.4" width="8.7" height="9.1" fill="#0f55a4"/>
<ellipse cx="636.3" cy="12.5" rx="10.3" ry="4.2" fill="#0f55a4"/>
<path d="M882.6 566.4 L897.3 557.6 L903 567.4 L888.5 575.2Z" fill="#0f55a4"/>
<path d="M540.0 38.0 L603.7 19.7" stroke="#0f55a4" stroke-width="2.0" fill="none"/>
<path d="M614.8 16.5 L605.0 23.9 L602.5 15.4 Z" fill="#0f55a4"/>
<path d="M534.6 122.0 L629.9 96.3" stroke="#066d4d" stroke-width="2.0" fill="none"/>
<path d="M641.0 93.3 L631.0 100.5 L628.8 92.0 Z" fill="#066d4d"/>
<path d="M607.4 204.7 L654.9 163.5" stroke="#0f55a4" stroke-width="2.0" fill="none"/>
<path d="M663.6 156.0 L657.8 166.9 L652.0 160.2 Z" fill="#0f55a4"/>
<path d="M802.9 21.0 L784.2 6.9" stroke="#0f55a4" stroke-width="2.0" fill="none"/>
<path d="M775.0 0.0 L786.8 3.4 L781.5 10.4 Z" fill="#0f55a4"/>
<path d="M745.5 248.0 L738.1 253.6" stroke="#0f55a4" stroke-width="2.0" fill="none"/>
<path d="M729.0 260.6 L735.5 250.1 L740.8 257.1 Z" fill="#0f55a4"/>
<path d="M627.0 306.0 L670.2 321.2" stroke="#0f55a4" stroke-width="2.0" fill="none"/>
<path d="M681.0 325.0 L668.7 325.3 L671.6 317.0 Z" fill="#0f55a4"/>
<path d="M579.0 351.4 L623.4 341.3" stroke="#0f55a4" stroke-width="2.0" fill="none"/>
<path d="M634.6 338.8 L624.4 345.6 L622.4 337.1 Z" fill="#0f55a4"/>
<path d="M937.7 263.0 L905.7 408.3" stroke="#0f55a4" stroke-width="2.0" fill="none"/>
<path d="M903.2 419.5 L901.4 407.3 L910.0 409.2 Z" fill="#0f55a4"/>
<path d="M1079.7 336.6 L1041.5 361.7" stroke="#0f55a4" stroke-width="2.0" fill="none"/>
<path d="M1031.9 368.0 L1039.1 358.0 L1043.9 365.4 Z" fill="#0f55a4"/>
<path d="M1058.3 454.8 L1015.6 460.7" stroke="#0f55a4" stroke-width="2.0" fill="none"/>
<path d="M1004.2 462.3 L1015.0 456.4 L1016.2 465.1 Z" fill="#0f55a4"/>
<path d="M664.8 530.9 L710.4 504.5" stroke="#0f55a4" stroke-width="2.0" fill="none"/>
<path d="M720.4 498.8 L712.6 508.4 L708.2 500.7 Z" fill="#0f55a4"/>
<path d="M960.0 569.5 L918.5 569.3" stroke="#0f55a4" stroke-width="2.0" fill="none"/>
<path d="M907.0 569.3 L918.5 564.9 L918.5 573.7 Z" fill="#0f55a4"/>
<path d="M784.0 653.7 L784.0 607.2" stroke="#0f55a4" stroke-width="2.0" fill="none"/>
<path d="M784.0 595.7 L788.4 607.2 L779.6 607.2 Z" fill="#0f55a4"/>
<path d="M701.4 623.5 L708.1 594.2" stroke="#066d4d" stroke-width="2.0" fill="none"/>
<path d="M710.7 583.0 L712.4 595.2 L703.8 593.2 Z" fill="#066d4d"/>
<path d="M268.5 485.0 L275.7 513.8" stroke="#066d4d" stroke-width="2.0" fill="none"/>
<path d="M278.5 525.0 L271.4 514.9 L280.0 512.8 Z" fill="#066d4d"/>
<path d="M608.0 680.0 L622.5 706.7" stroke="#066d4d" stroke-width="2.0" fill="none"/>
<path d="M628.0 716.8 L618.6 708.8 L626.4 704.6 Z" fill="#066d4d"/>
<path d="M944.0 694.0 L968.7 712.2" stroke="#066d4d" stroke-width="2.0" fill="none"/>
<path d="M978.0 719.0 L966.1 715.7 L971.3 708.6 Z" fill="#066d4d"/>
<path d="M1138.8 582.0 L1170.1 578.8" stroke="#066d4d" stroke-width="2.0" fill="none"/>
<path d="M1181.5 577.6 L1170.5 583.2 L1169.6 574.4 Z" fill="#066d4d"/>
<path d="M635.0 18.1 L645.5 33.8 H624.5 Z M635.0 25.2 L639.2 32.2 H630.8 Z" fill="#0f55a4" fill-rule="evenodd"/>
<rect x="624.0" y="32.8" width="22.0" height="1.3" fill="#0f55a4"/>
<circle cx="615.2" cy="43.9" r="3" fill="#0f55a4"/>
<path d="M619.3 40.7 A5.2 5.2 0 0 1 619.3 47.1" fill="none" stroke="#0f55a4" stroke-width="1.3"/>
<path d="M622.0 38.6 A8.6 8.6 0 0 1 622.0 49.2" fill="none" stroke="#0f55a4" stroke-width="1.3"/>
<path d="M624.7 36.5 A12.0 12.0 0 0 1 624.7 51.3" fill="none" stroke="#0f55a4" stroke-width="1.3"/>
<path d="M627.5 34.3 A15.6 15.6 0 0 1 627.5 53.5" fill="none" stroke="#0f55a4" stroke-width="1.3"/>
<path d="M630.2 32.2 A19.0 19.0 0 0 1 630.2 55.6" fill="none" stroke="#0f55a4" stroke-width="1.3"/>
<path d="M644.3 44.3 L651.9 50.6 V60.3 H637.1 V50.6Z" fill="#0f55a4"/>
<g stroke="#0f55a4" fill="none" stroke-linecap="butt"><path d="M811.0 18.3 H822.6" stroke-width="2.1"/><path d="M807.1 23.6 H826.5" stroke-width="2.3"/><path d="M814.7 18.3 L810.6 31.8 M818.9 18.3 L823.0 31.8" stroke-width="2"/></g>
<g fill="#0f55a4" transform="translate(835.4 18.0) scale(1.034)"><rect x="-0.55" y="-2.2" width="1.1" height="19"/><circle cx="-4.6" cy="1.3" r="1.45"/><path d="M-5.7 3 h2.2 l2.1 6.6 h-1.7 v4.9 h-1.15 v-4.9 h-0.7 v4.9 h-1.15 v-4.9 h-1.7z"/><circle cx="4.4" cy="1.3" r="1.45"/><path d="M1.9 3 h5 v5.8 h-0.9 v5.7 h-1.4 v-5.7 h-0.4 v5.7 h-1.4 v-5.7 h-0.9z"/></g>
<g fill="#0f55a4"><path d="M809.4 132.0 h8.2 l1.9 3.8 h-12z"/><rect x="806.4" y="135.6" width="14.2" height="5.3" rx="1.2"/><rect x="807.6" y="140.5" width="2.3" height="2.6"/><rect x="817.1" y="140.5" width="2.3" height="2.6"/><rect x="806.1" y="144.0" width="14.8" height="1.6"/><path d="M810.0 132.9 h7 l1 2.1 h-9z" fill="#fff"/><rect x="807.7" y="137.4" width="1.6" height="1.3" fill="#fff"/><rect x="817.7" y="137.4" width="1.6" height="1.3" fill="#fff"/></g>
<g fill="#0f55a4"><path d="M825.3 170.5 h8.2 l1.9 3.8 h-12z"/><rect x="822.3" y="174.1" width="14.2" height="5.3" rx="1.2"/><rect x="823.5" y="179.0" width="2.3" height="2.6"/><rect x="833.0" y="179.0" width="2.3" height="2.6"/><rect x="822.0" y="182.5" width="14.8" height="1.6"/><path d="M825.9 171.4 h7 l1 2.1 h-9z" fill="#fff"/><rect x="823.6" y="175.9" width="1.6" height="1.3" fill="#fff"/><rect x="833.6" y="175.9" width="1.6" height="1.3" fill="#fff"/></g>
<g fill="#0f55a4"><path d="M889.3 312.5 h8.2 l1.9 3.8 h-12z"/><rect x="886.3" y="316.1" width="14.2" height="5.3" rx="1.2"/><rect x="887.5" y="321.0" width="2.3" height="2.6"/><rect x="897.0" y="321.0" width="2.3" height="2.6"/><rect x="886.0" y="324.5" width="14.8" height="1.6"/><path d="M889.9 313.4 h7 l1 2.1 h-9z" fill="#fff"/><rect x="887.6" y="317.9" width="1.6" height="1.3" fill="#fff"/><rect x="897.6" y="317.9" width="1.6" height="1.3" fill="#fff"/></g>
<g fill="#0f55a4"><path d="M978.8 418.5 h8.2 l1.9 3.8 h-12z"/><rect x="975.8" y="422.1" width="14.2" height="5.3" rx="1.2"/><rect x="977.0" y="427.0" width="2.3" height="2.6"/><rect x="986.5" y="427.0" width="2.3" height="2.6"/><rect x="975.5" y="430.5" width="14.8" height="1.6"/><path d="M979.4 419.4 h7 l1 2.1 h-9z" fill="#fff"/><rect x="977.1" y="423.9" width="1.6" height="1.3" fill="#fff"/><rect x="987.1" y="423.9" width="1.6" height="1.3" fill="#fff"/></g>
<g fill="#0f55a4"><path d="M835.7 585.5 h8.2 l1.9 3.8 h-12z"/><rect x="832.7" y="589.1" width="14.2" height="5.3" rx="1.2"/><rect x="833.9" y="594.0" width="2.3" height="2.6"/><rect x="843.4" y="594.0" width="2.3" height="2.6"/><rect x="832.4" y="597.5" width="14.8" height="1.6"/><path d="M836.3 586.4 h7 l1 2.1 h-9z" fill="#fff"/><rect x="834.0" y="590.9" width="1.6" height="1.3" fill="#fff"/><rect x="844.0" y="590.9" width="1.6" height="1.3" fill="#fff"/></g>
<path d="M648.5 141 L656.5 147.5 V156 H641 V147.5Z" fill="#0f55a4"/>
<rect x="646.8" y="150" width="3.6" height="6" fill="#fff"/>
<path d="M653.5 128 V145" stroke="#0f55a4" stroke-width="1.2"/>
<path d="M654 128.5 h6 v3.5 h-6z M654 133.5 h4.5 v2.2 h-4.5z" fill="#0f55a4"/>
<path d="M693.5 319.5 L701.0 332.0 H686.0 Z M693.5 325.1 L696.5 330.8 H690.5 Z" fill="#0f55a4" fill-rule="evenodd"/>
<rect x="685.5" y="331.0" width="16.0" height="1.3" fill="#0f55a4"/>
<g stroke="#0f55a4" fill="none" stroke-linecap="butt"><path d="M706.6 355.9 H718.2" stroke-width="2.1"/><path d="M702.7 361.2 H722.1" stroke-width="2.3"/><path d="M710.3 355.9 L706.2 369.4 M714.5 355.9 L718.6 369.4" stroke-width="2"/></g>
<g stroke="#0f55a4" fill="none" stroke-linecap="butt"><path d="M682.3 281.9 H693.1" stroke-width="2.1"/><path d="M678.7 287.0 H696.7" stroke-width="2.3"/><path d="M685.7 281.9 L681.9 295.0 M689.7 281.9 L693.5 295.0" stroke-width="2"/></g>
<g stroke="#0f55a4" fill="none" stroke-linecap="butt"><path d="M680.3 493.9 H691.9" stroke-width="2.1"/><path d="M676.4 499.2 H695.8" stroke-width="2.3"/><path d="M684.0 493.9 L679.9 507.4 M688.2 493.9 L692.3 507.4" stroke-width="2"/></g>
<g stroke="#0f55a4" fill="none" stroke-linecap="butt"><path d="M926.5 417.5 H938.1" stroke-width="2.1"/><path d="M922.6 422.8 H942.0" stroke-width="2.3"/><path d="M930.2 417.5 L926.1 431.0 M934.4 417.5 L938.5 431.0" stroke-width="2"/></g>
<g stroke="#0f55a4" fill="none" stroke-linecap="butt"><path d="M653.0 416.9 H663.5" stroke-width="2.1"/><path d="M649.5 422.0 H667.0" stroke-width="2.3"/><path d="M656.3 416.9 L652.6 430.0 M660.2 416.9 L663.9 430.0" stroke-width="2"/></g>
<g fill="#0f55a4" transform="translate(708.5 273.5) scale(0.862)"><rect x="-0.55" y="-2.2" width="1.1" height="19"/><circle cx="-4.6" cy="1.3" r="1.45"/><path d="M-5.7 3 h2.2 l2.1 6.6 h-1.7 v4.9 h-1.15 v-4.9 h-0.7 v4.9 h-1.15 v-4.9 h-1.7z"/><circle cx="4.4" cy="1.3" r="1.45"/><path d="M1.9 3 h5 v5.8 h-0.9 v5.7 h-1.4 v-5.7 h-0.4 v5.7 h-1.4 v-5.7 h-0.9z"/></g>
<g fill="#0f55a4" transform="translate(668.5 299.0) scale(0.897)"><rect x="-0.55" y="-2.2" width="1.1" height="19"/><circle cx="-4.6" cy="1.3" r="1.45"/><path d="M-5.7 3 h2.2 l2.1 6.6 h-1.7 v4.9 h-1.15 v-4.9 h-0.7 v4.9 h-1.15 v-4.9 h-1.7z"/><circle cx="4.4" cy="1.3" r="1.45"/><path d="M1.9 3 h5 v5.8 h-0.9 v5.7 h-1.4 v-5.7 h-0.4 v5.7 h-1.4 v-5.7 h-0.9z"/></g>
<g fill="#0f55a4" transform="translate(725.5 454.6) scale(0.966)"><rect x="-0.55" y="-2.2" width="1.1" height="19"/><circle cx="-4.6" cy="1.3" r="1.45"/><path d="M-5.7 3 h2.2 l2.1 6.6 h-1.7 v4.9 h-1.15 v-4.9 h-0.7 v4.9 h-1.15 v-4.9 h-1.7z"/><circle cx="4.4" cy="1.3" r="1.45"/><path d="M1.9 3 h5 v5.8 h-0.9 v5.7 h-1.4 v-5.7 h-0.4 v5.7 h-1.4 v-5.7 h-0.9z"/></g>
<g fill="#0f55a4" transform="translate(727.4 525.0) scale(1.034)"><rect x="-0.55" y="-2.2" width="1.1" height="19"/><circle cx="-4.6" cy="1.3" r="1.45"/><path d="M-5.7 3 h2.2 l2.1 6.6 h-1.7 v4.9 h-1.15 v-4.9 h-0.7 v4.9 h-1.15 v-4.9 h-1.7z"/><circle cx="4.4" cy="1.3" r="1.45"/><path d="M1.9 3 h5 v5.8 h-0.9 v5.7 h-1.4 v-5.7 h-0.4 v5.7 h-1.4 v-5.7 h-0.9z"/></g>
<g fill="#0f55a4" transform="translate(910.0 419.0) scale(0.897)"><rect x="-0.55" y="-2.2" width="1.1" height="19"/><circle cx="-4.6" cy="1.3" r="1.45"/><path d="M-5.7 3 h2.2 l2.1 6.6 h-1.7 v4.9 h-1.15 v-4.9 h-0.7 v4.9 h-1.15 v-4.9 h-1.7z"/><circle cx="4.4" cy="1.3" r="1.45"/><path d="M1.9 3 h5 v5.8 h-0.9 v5.7 h-1.4 v-5.7 h-0.4 v5.7 h-1.4 v-5.7 h-0.9z"/></g>
<rect x="718.6" y="287.8" width="12.4" height="4.2" fill="#0f55a4"/>
<rect x="718" y="296.5" width="12.6" height="3" fill="#0f55a4"/>
<path d="M726 297 L741.5 301.5 M726 300.5 L741.5 303.5" stroke="#0f55a4" stroke-width="1.3" fill="none"/>
<rect x="717.7" y="304.4" width="11.3" height="3.3" fill="#0f55a4"/>
<path d="M729 305.5 L741.5 306.5" stroke="#0f55a4" stroke-width="1.2" fill="none"/>
<path d="M717.7 323.4 L739.5 314.8" stroke="#0f55a4" stroke-width="3.4" fill="none"/>
<path d="M719 326 L741 317.4 M716.5 320.8 L738 312.3" stroke="#0f55a4" stroke-width="3.4" stroke-dasharray="1.1 2.6" fill="none"/>
<rect x="712.8" y="413.8" width="27.1" height="12.8" fill="#0f55a4"/>
<circle cx="731.5" cy="419.3" r="2" fill="#fff"/>
<path d="M715 419.5 l6 -2.5 l5 1 l4 4.5 l-3 1 l-3.2 -3 l-4 1.2z M716 424 l6.5 -2 l5 1.5 l-1 1z" fill="#fff"/>
<circle cx="773.6" cy="488.3" r="3.3" fill="#0f55a4"/>
<path d="M750.3 486.5 l10.5 -4 l4.2 0.6 l6.5 8.5 l-3.5 4.2 l-5.5 0.6 l-7 -0.4 l-3.8 -2.8 l6 -1.8 l3.8 -2.6 l-1.6 -2.4 l-6.2 2.2z" fill="#0f55a4"/>
<path d="M774.5 494.5 q2 -1.5 4 0 q2 1.2 4.2 -0.2" stroke="#0f55a4" stroke-width="1" fill="none"/>
<path d="M725.6 470.6 H735.6 M726.2 470.6 L722 485.5 M735 470.6 L739.2 485.5" stroke="#0f55a4" stroke-width="1.7" fill="none"/>
<path d="M728.5 471 V480 M732.8 471 V480" stroke="#0f55a4" stroke-width="0.9" fill="none"/>
<rect x="727" y="480" width="7.3" height="1.7" fill="#0f55a4"/>
<path d="M732.8 484 L738.2 489.4 H727.4Z" fill="#0f55a4"/>
<rect x="727" y="491.2" width="12" height="7.6" fill="#0f55a4"/>
<circle cx="733.7" cy="509.7" r="7.2" fill="#fff" stroke="#0f55a4" stroke-width="1.7"/>
<path d="M733.7 506.4 l3 2.2 l-1.2 3.5 h-3.7 l-1.1 -3.5z" fill="#0f55a4"/>
<circle cx="737.5" cy="504.5" r="1.7" fill="#0f55a4"/>
<circle cx="739.8" cy="511.7" r="1.7" fill="#0f55a4"/>
<circle cx="733.7" cy="516.1" r="1.7" fill="#0f55a4"/>
<circle cx="727.6" cy="511.7" r="1.7" fill="#0f55a4"/>
<circle cx="729.9" cy="504.5" r="1.7" fill="#0f55a4"/>
<circle cx="741.8" cy="523" r="6.8" fill="#fff" stroke="#0f55a4" stroke-width="1.4"/>
<path d="M741.8 516.2 V529.8 M735 523 H748.6 M737 518.2 Q740.4 523 737 527.8 M746.6 518.2 Q743.2 523 746.6 527.8" fill="none" stroke="#0f55a4" stroke-width="1.1"/>
<path d="M881 452 L902 452 L903.7 447.5 L884 443.5Z" fill="#0f55a4"/>
<path d="M886 444 L889 440 L898 441.5 L900.5 446.8" fill="none" stroke="#0f55a4" stroke-width="1.3"/>
<path d="M884.5 447.6 L900.5 449.3" stroke="#fff" stroke-width="0.9" stroke-dasharray="2.2 1.3"/>
<path d="M880.5 454.3 H901" stroke="#0f55a4" stroke-width="1.4"/>
<path d="M810.4 590.2 L820 586 M811.3 590 V598.4 H827.2" fill="none" stroke="#0f55a4" stroke-width="1.1"/>
<g stroke="#0f55a4" fill="none" stroke-linecap="butt"><path d="M815.9 590.3 H823.9" stroke-width="2.1"/><path d="M813.3 593.1 H826.5" stroke-width="2.3"/><path d="M818.4 590.3 L815.7 598.0 M821.4 590.3 L824.1 598.0" stroke-width="2"/></g>
<path d="M784.5 579.5 q5 -3.6 12 -3 q8 0.6 10.6 3.6 q-3 3.6 -10 4.6 q-5 0.6 -7.5 -0.8 l-3 3 l-2.2 -0.8 l1.6 -3.2z" fill="#0f55a4"/>
<text x="112.8" y="27.6" fill="#066d4d" stroke="#066d4d" stroke-width="0.25" font-size="15.75" text-anchor="start" font-weight="normal" font-style="italic" >To Delaware</text>
<text x="540.0" y="29.0" fill="#19559f" stroke="#19559f" stroke-width="0.25" font-size="15.95" text-anchor="end" font-weight="normal"  >Campground</text>
<text x="540.0" y="48.6" fill="#19559f" stroke="#19559f" stroke-width="0.25" font-size="15.95" text-anchor="end" font-weight="normal"  >Welcome Center</text>
<text x="352.4" y="110.8" fill="#066d4d" stroke="#066d4d" stroke-width="0.25" font-size="15.95" text-anchor="start" font-weight="normal"  >Div. of Watercraft</text>
<text x="352.4" y="129.3" fill="#066d4d" stroke="#066d4d" stroke-width="0.25" font-size="15.95" text-anchor="start" font-weight="normal"  >Div. of Geological Survey</text>
<text x="211.5" y="164.4" fill="#066d4d" stroke="#066d4d" stroke-width="0.25" font-size="15.95" text-anchor="start" font-weight="normal"  transform="rotate(-7.6 211.5 164.4)" >Peachblow Rd.</text>
<text x="235.6" y="265.7" fill="#066d4d" stroke="#066d4d" stroke-width="0.25" font-size="15.95" text-anchor="start" font-weight="normal"  transform="rotate(75.6 235.6 265.7)" >US 23</text>
<text x="442.0" y="215.5" fill="#19559f" stroke="#19559f" stroke-width="0.25" font-size="15.95" text-anchor="start" font-weight="normal"  >Park Office Hiking Trail</text>
<text x="527.3" y="249.6" fill="#066d4d" stroke="#066d4d" stroke-width="0.25" font-size="15.95" text-anchor="start" font-weight="normal"  >Hollenback</text>
<text x="620.0" y="249.6" fill="#066d4d" stroke="#066d4d" stroke-width="0.25" font-size="15.95" text-anchor="start" font-weight="normal"  >Rd.</text>
<text x="533.8" y="309.3" fill="#19559f" stroke="#19559f" stroke-width="0.25" font-size="15.95" text-anchor="start" font-weight="normal"  >Group Camp</text>
<text x="410.0" y="359.0" fill="#19559f" stroke="#19559f" stroke-width="0.25" font-size="15.95" text-anchor="start" font-weight="normal"  >Hollenback Hiking Trail</text>
<text x="419.0" y="445.0" fill="#066d4d" stroke="#066d4d" stroke-width="0.25" font-size="15.95" text-anchor="start" font-weight="normal"  >Lewis Center Rd.</text>
<text x="178.5" y="481.5" fill="#066d4d" stroke="#066d4d" stroke-width="0.25" font-size="15.75" text-anchor="start" font-weight="normal" font-style="italic" >To Columbus</text>
<text x="515.0" y="676.0" fill="#066d4d" stroke="#066d4d" stroke-width="0.25" font-size="15.75" text-anchor="start" font-weight="normal" font-style="italic" >To Columbus</text>
<text x="572.2" y="511.3" fill="#19559f" stroke="#19559f" stroke-width="0.25" font-size="15.95" text-anchor="start" font-weight="normal"  >Beach</text>
<text x="572.2" y="530.8" fill="#19559f" stroke="#19559f" stroke-width="0.25" font-size="15.95" text-anchor="start" font-weight="normal"  >Concession/</text>
<text x="572.2" y="550.3" fill="#19559f" stroke="#19559f" stroke-width="0.25" font-size="15.95" text-anchor="start" font-weight="normal"  >Showerhouse</text>
<text x="641.0" y="638.6" fill="#066d4d" stroke="#066d4d" stroke-width="0.25" font-size="15.95" text-anchor="start" font-weight="normal"  >US Army Corps of</text>
<text x="641.0" y="658.8" fill="#066d4d" stroke="#066d4d" stroke-width="0.25" font-size="15.95" text-anchor="start" font-weight="normal"  >Engineers Visitor</text>
<text x="641.0" y="677.7" fill="#066d4d" stroke="#066d4d" stroke-width="0.25" font-size="15.95" text-anchor="start" font-weight="normal"  >Center</text>
<text x="773.0" y="671.4" fill="#19559f" stroke="#19559f" stroke-width="0.25" font-size="15.95" text-anchor="start" font-weight="normal"  >Dam</text>
<text x="749.0" y="231.0" fill="#19559f" stroke="#19559f" stroke-width="0.25" font-size="15.95" text-anchor="start" font-weight="normal"  >Dog</text>
<text x="749.0" y="249.0" fill="#19559f" stroke="#19559f" stroke-width="0.25" font-size="15.95" text-anchor="start" font-weight="normal"  >Park</text>
<text x="734.0" y="297.0" fill="#19559f" stroke="#19559f" stroke-width="0.25" font-size="15.95" text-anchor="start" font-weight="normal"  >Marina</text>
<text x="931.4" y="182.8" fill="#19559f" stroke="#19559f" stroke-width="0.25" font-size="15.95" text-anchor="middle" font-weight="normal"  >Multiple</text>
<text x="931.4" y="201.6" fill="#19559f" stroke="#19559f" stroke-width="0.25" font-size="15.95" text-anchor="middle" font-weight="normal"  >Purpose</text>
<text x="931.4" y="221.0" fill="#19559f" stroke="#19559f" stroke-width="0.25" font-size="15.95" text-anchor="middle" font-weight="normal"  >Trail</text>
<text x="931.4" y="240.4" fill="#19559f" stroke="#19559f" stroke-width="0.25" font-size="15.95" text-anchor="middle" font-weight="normal"  >Access</text>
<text x="931.4" y="259.6" fill="#19559f" stroke="#19559f" stroke-width="0.25" font-size="15.95" text-anchor="middle" font-weight="normal"  >Area</text>
<text x="972.8" y="309.7" fill="#066d4d" stroke="#066d4d" stroke-width="0.25" font-size="15.95" text-anchor="start" font-weight="normal"  >Plumb Rd.</text>
<text x="1084.7" y="334.8" fill="#19559f" stroke="#19559f" stroke-width="0.25" font-size="15.95" text-anchor="start" font-weight="normal"  >Mt. Bike Trail</text>
<text x="1084.7" y="353.9" fill="#19559f" stroke="#19559f" stroke-width="0.25" font-size="15.95" text-anchor="start" font-weight="normal"  >5 miles</text>
<text x="1050.4" y="410.9" fill="#066d4d" stroke="#066d4d" stroke-width="0.25" font-size="15.95" text-anchor="start" font-weight="normal"  >Lewis Center Rd.</text>
<text x="1061.6" y="453.0" fill="#19559f" stroke="#19559f" stroke-width="0.25" font-size="15.95" text-anchor="start" font-weight="normal"  >Mt. Bike Trail</text>
<text x="1061.6" y="471.6" fill="#19559f" stroke="#19559f" stroke-width="0.25" font-size="15.95" text-anchor="start" font-weight="normal"  >(Novice) 2 miles</text>
<text x="1049.5" y="518.5" fill="#066d4d" stroke="#066d4d" stroke-width="0.25" font-size="15.95" text-anchor="start" font-weight="normal"  >Jacox Rd.</text>
<text x="897.0" y="504.8" fill="#19559f" stroke="#19559f" stroke-width="0.25" font-size="15.95" text-anchor="start" font-weight="normal"  >Disc Golf</text>
<text x="897.0" y="523.8" fill="#19559f" stroke="#19559f" stroke-width="0.25" font-size="15.95" text-anchor="start" font-weight="normal"  >Course</text>
<text x="967.3" y="568.0" fill="#19559f" stroke="#19559f" stroke-width="0.25" font-size="15.95" text-anchor="start" font-weight="normal"  >Model Airplane</text>
<text x="967.3" y="586.6" fill="#19559f" stroke="#19559f" stroke-width="0.25" font-size="15.95" text-anchor="start" font-weight="normal"  >Field</text>
<text x="1077.5" y="594.5" fill="#066d4d" stroke="#066d4d" stroke-width="0.25" font-size="15.75" text-anchor="start" font-weight="normal" font-style="italic" transform="rotate(-8.0 1077.5 594.5)" >To SR 3</text>
<text x="999.2" y="628.2" fill="#066d4d" stroke="#066d4d" stroke-width="0.25" font-size="15.95" text-anchor="start" font-weight="normal"  transform="rotate(-7.6 999.2 628.2)" >Big Walnut Rd.</text>
<text x="874.2" y="675.2" fill="#066d4d" stroke="#066d4d" stroke-width="0.25" font-size="15.95" text-anchor="start" font-weight="normal"  transform="rotate(38.0 874.2 675.2)" >Africa Rd.</text>
<text x="930.0" y="689.6" fill="#066d4d" stroke="#066d4d" stroke-width="0.25" font-size="15.75" text-anchor="start" font-weight="normal" font-style="italic" >To Westerville</text>
<text x="1130.4" y="726.7" fill="#2d6b57" stroke="#2d6b57" stroke-width="0.25" font-size="11.5" text-anchor="start" font-weight="normal"  >Rev. 10/12</text>
<text x="781.5" y="68.0" fill="#066d4d" stroke="#066d4d" stroke-width="0.25" font-size="15.95" text-anchor="start" font-weight="normal"  transform="rotate(64.0 781.5 68.0)" >CR 21</text>
<text x="1059.0" y="88.0" fill="#066d4d" stroke="#066d4d" stroke-width="0.25" font-size="15.95" text-anchor="start" font-weight="normal"  transform="rotate(90.0 1059.0 88.0)" >I - 71</text>
<text x="779.5" y="341.0" fill="#066d4d" stroke="#066d4d" stroke-width="0.25" font-size="15.95" text-anchor="start" font-weight="normal"  transform="rotate(81.0 779.5 341.0)" >OPEN ZONE</text>
<text x="903.5" y="0.3" fill="#19559f" stroke="#19559f" stroke-width="0.25" font-size="15.95" text-anchor="middle" font-weight="normal"  >(advanced)</text>
<text x="433.3" y="484.0" fill="#e8121a" stroke="#e8121a" stroke-width="0.25" font-size="12.6" text-anchor="start" font-weight="bold"  letter-spacing="0.72">Sailing Club</text>
<text x="433.3" y="501.5" fill="#e8121a" stroke="#e8121a" stroke-width="0.25" font-size="12.6" text-anchor="start" font-weight="bold"  letter-spacing="0.72">Access</text>
<path d="M117.5 591.5 L58 591.5 L58 725 L268.5 725 L268.5 591.5 L206 591.5" fill="none" stroke="#066d4d" stroke-width="1.6"/>
<text x="126.5" y="597.6" fill="#066d4d" stroke="#066d4d" stroke-width="0.9" font-size="22.6" font-weight="bold" textLength="72" lengthAdjust="spacingAndGlyphs">TRAILS</text>
<text x="121.5" y="625" fill="#0f55a4" stroke="#0f55a4" stroke-width="0.45" font-size="15.3" font-weight="bold" textLength="77" lengthAdjust="spacingAndGlyphs">Bridle Trails</text>
<text x="121.5" y="653" fill="#0f55a4" stroke="#0f55a4" stroke-width="0.45" font-size="15.3" font-weight="bold" textLength="80.5" lengthAdjust="spacingAndGlyphs">Hiking Trails</text>
<text x="121.5" y="681" fill="#0f55a4" stroke="#0f55a4" stroke-width="0.45" font-size="15.3" font-weight="bold" textLength="124.5" lengthAdjust="spacingAndGlyphs">Multi Purpose Trail</text>
<text x="121.5" y="709" fill="#0f55a4" stroke="#0f55a4" stroke-width="0.45" font-size="15.3" font-weight="bold" textLength="128" lengthAdjust="spacingAndGlyphs">Mountain Bike Trail</text>
<path d="M78 615.5 L109 624.3" stroke="#0f55a4" stroke-width="4.6" stroke-dasharray="1.7 3.4" fill="none"/>
<path d="M79 641 L106 649.5" stroke="#0f55a4" stroke-width="1.8" stroke-dasharray="3.4 3" fill="none"/>
<path d="M78 667.3 L111 678" stroke="#0f55a4" stroke-width="3.6" stroke-dasharray="3.6 3.2 7.5 3.2 8.5 3 1 30" fill="none"/>
<path d="M78.5 696.5 L104 705.8" stroke="#0f55a4" stroke-width="2.4" stroke-dasharray="0.1 6.3" stroke-linecap="round" fill="none"/>
<defs><linearGradient id="lg" x1="0" x2="1" y1="0" y2="0"><stop offset="0" stop-color="#b4b4b4"/><stop offset="0.7" stop-color="#a6a6a6"/><stop offset="1" stop-color="#8e8e8e"/></linearGradient></defs>
<rect x="0" y="0" width="5" height="758" fill="url(#lg)"/>
<rect x="1227.6" y="0" width="1.4" height="758" fill="#a0a0a0"/>
</svg>
</body></html>
